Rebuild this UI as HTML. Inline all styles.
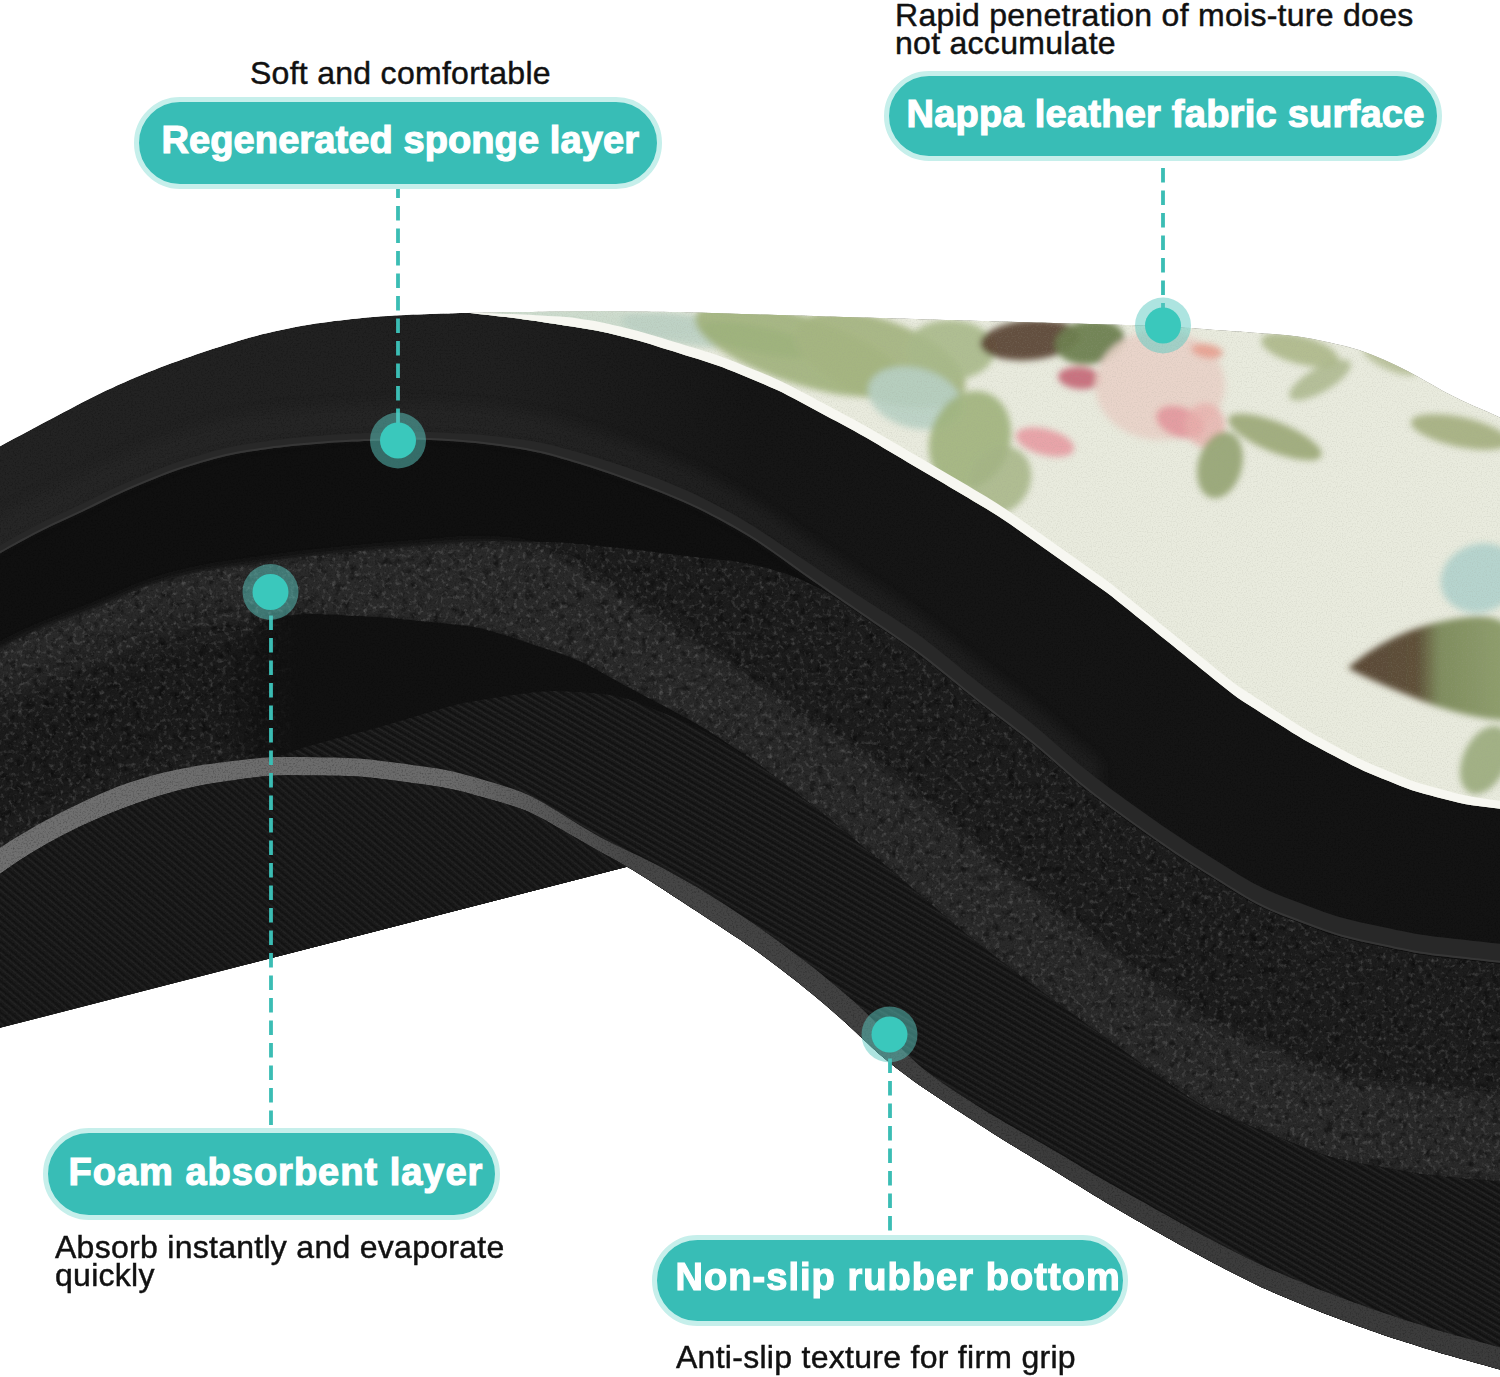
<!DOCTYPE html>
<html><head><meta charset="utf-8">
<style>
html,body{margin:0;padding:0;background:#fff;}
body{width:1500px;height:1377px;overflow:hidden;position:relative;font-family:"Liberation Sans",sans-serif;}
svg{position:absolute;left:0;top:0;}
.t{position:absolute;color:#111;font-size:32px;line-height:28px;white-space:nowrap;letter-spacing:0.28px;-webkit-text-stroke:0.45px #111;}
.pt{position:absolute;color:#fff;font-size:38px;line-height:38px;font-weight:bold;white-space:nowrap;-webkit-text-stroke:1.2px #fff;}
.pill{position:absolute;background:#38bdb6;border:5px solid #c6efeb;border-radius:60px;box-sizing:border-box;}
</style></head><body>
<svg width="1500" height="1377" viewBox="0 0 1500 1377">
<defs>
 <linearGradient id="gTop" gradientUnits="userSpaceOnUse" x1="0" y1="0" x2="1500" y2="0">
  <stop offset="0" stop-color="#232323"/><stop offset="0.33" stop-color="#202020"/><stop offset="0.5" stop-color="#161616"/><stop offset="1" stop-color="#131313"/>
 </linearGradient>
 <linearGradient id="gStripe" gradientUnits="userSpaceOnUse" x1="0" y1="0" x2="1500" y2="0">
  <stop offset="0" stop-color="#707070"/><stop offset="0.3" stop-color="#6a6a6a"/><stop offset="0.42" stop-color="#474747"/><stop offset="0.7" stop-color="#3c3c3c"/><stop offset="1" stop-color="#3c3c3c"/>
 </linearGradient>
 <linearGradient id="gLeaf" gradientUnits="userSpaceOnUse" x1="1350" y1="0" x2="1500" y2="0">
  <stop offset="0" stop-color="#5a4836"/><stop offset="0.45" stop-color="#5e5038"/><stop offset="0.6" stop-color="#7f8d5e"/><stop offset="1" stop-color="#8e9d6c"/>
 </linearGradient>
 <filter id="blur3" x="-20%" y="-20%" width="140%" height="140%"><feGaussianBlur stdDeviation="3"/></filter>
 <filter id="blur6" x="-20%" y="-20%" width="140%" height="140%"><feGaussianBlur stdDeviation="6"/></filter>
 <filter id="blurU12" filterUnits="userSpaceOnUse" x="-50" y="-50" width="1600" height="1477"><feGaussianBlur stdDeviation="14"/></filter>
 <filter id="blurU5" filterUnits="userSpaceOnUse" x="-50" y="-50" width="1600" height="1477"><feGaussianBlur stdDeviation="5"/></filter>
 <filter id="noiseFoam" x="0" y="0" width="100%" height="100%" filterUnits="userSpaceOnUse">
  <feTurbulence type="fractalNoise" baseFrequency="0.22" numOctaves="3" seed="3" result="n"/>
  <feColorMatrix in="n" type="matrix" values="0 0 0 0 1  0 0 0 0 1  0 0 0 0 1  0 0 0 2.2 -1.15"/>
 </filter>
 <filter id="noiseFoamDark" x="0" y="0" width="100%" height="100%" filterUnits="userSpaceOnUse">
  <feTurbulence type="fractalNoise" baseFrequency="0.12" numOctaves="3" seed="5" result="n"/>
  <feColorMatrix in="n" type="matrix" values="0 0 0 0 0  0 0 0 0 0  0 0 0 0 0  0 0 0 -2.6 1.25"/>
 </filter>
 <filter id="noiseDark" x="0" y="0" width="100%" height="100%" filterUnits="userSpaceOnUse">
  <feTurbulence type="fractalNoise" baseFrequency="0.6" numOctaves="2" seed="7" result="n"/>
  <feColorMatrix in="n" type="matrix" values="0 0 0 0 0  0 0 0 0 0  0 0 0 0 0  0 0 0 2.5 -1.2"/>
 </filter>
 <filter id="noiseCream" x="0" y="0" width="100%" height="100%" filterUnits="userSpaceOnUse">
  <feTurbulence type="fractalNoise" baseFrequency="0.8" numOctaves="1" seed="11" result="n"/>
  <feColorMatrix in="n" type="matrix" values="0 0 0 0 0.35  0 0 0 0 0.35  0 0 0 0 0.3  0 0 0 1.6 -0.75"/>
 </filter>
 <pattern id="knitPat" patternUnits="userSpaceOnUse" width="6" height="6" patternTransform="rotate(30)">
  <rect x="0" y="0" width="6" height="2" fill="#000" fill-opacity="0.3"/>
  <rect x="0" y="3" width="6" height="1" fill="#fff" fill-opacity="0.05"/>
 </pattern>
 <pattern id="knitPat2" patternUnits="userSpaceOnUse" width="6" height="6" patternTransform="rotate(40)">
  <rect x="0" y="0" width="6" height="2" fill="#000" fill-opacity="0.25"/>
  <rect x="0" y="3" width="6" height="1" fill="#fff" fill-opacity="0.04"/>
 </pattern>
 <linearGradient id="gFade" gradientUnits="userSpaceOnUse" x1="215" y1="0" x2="300" y2="0">
  <stop offset="0" stop-color="#fff" stop-opacity="0"/><stop offset="1" stop-color="#fff" stop-opacity="1"/>
 </linearGradient>
 <mask id="maskFade" maskUnits="userSpaceOnUse" x="0" y="0" width="1500" height="1377"><rect x="0" y="0" width="1500" height="1377" fill="url(#gFade)"/></mask>
 <clipPath id="clipFoam"><path d="M-20.0 660.0 L-14.0 656.5 L-8.0 653.0 L-2.0 649.7 L4.0 646.4 L10.0 643.2 L16.0 640.1 L22.0 637.1 L28.0 634.2 L34.0 631.4 L40.0 628.8 L46.0 626.3 L52.0 623.9 L58.0 621.6 L64.0 619.4 L70.0 617.2 L76.0 615.0 L82.0 612.8 L88.0 610.5 L94.0 608.1 L100.0 605.7 L106.0 603.1 L112.0 600.5 L118.0 597.9 L124.0 595.3 L130.0 592.7 L136.0 590.2 L142.0 587.8 L148.0 585.7 L154.0 583.7 L160.0 581.8 L166.0 580.1 L172.0 578.4 L178.0 576.9 L184.0 575.3 L190.0 573.9 L196.0 572.5 L202.0 571.3 L208.0 570.2 L214.0 569.1 L220.0 568.2 L226.0 567.3 L232.0 566.4 L238.0 565.6 L244.0 564.7 L250.0 563.9 L256.0 563.0 L262.0 562.2 L268.0 561.3 L274.0 560.5 L280.0 559.7 L286.0 558.9 L292.0 558.2 L298.0 557.4 L304.0 556.7 L310.0 556.1 L316.0 555.4 L322.0 554.8 L328.0 554.2 L334.0 553.6 L340.0 553.0 L346.0 552.4 L352.0 551.8 L358.0 551.2 L364.0 550.6 L370.0 550.0 L376.0 549.5 L382.0 548.9 L388.0 548.4 L394.0 547.9 L400.0 547.4 L406.0 546.9 L412.0 546.4 L418.0 546.0 L424.0 545.5 L430.0 545.0 L436.0 544.5 L442.0 544.0 L448.0 543.6 L454.0 543.1 L460.0 542.6 L466.0 542.2 L472.0 541.9 L478.0 541.6 L484.0 541.4 L490.0 541.3 L496.0 541.3 L502.0 541.3 L508.0 541.4 L514.0 541.4 L520.0 541.5 L526.0 541.6 L532.0 541.7 L538.0 541.8 L544.0 541.9 L550.0 542.0 L556.0 542.3 L562.0 542.6 L568.0 543.0 L574.0 543.5 L580.0 544.0 L586.0 544.6 L592.0 545.2 L598.0 545.8 L604.0 546.4 L610.0 547.0 L616.0 547.6 L622.0 548.2 L628.0 548.9 L634.0 549.5 L640.0 550.2 L646.0 550.9 L652.0 551.7 L658.0 552.4 L664.0 553.2 L670.0 554.0 L676.0 554.8 L682.0 555.6 L688.0 556.3 L694.0 557.0 L700.0 557.7 L706.0 558.3 L712.0 558.8 L718.0 559.4 L724.0 559.9 L730.0 560.6 L736.0 561.4 L742.0 562.4 L748.0 563.5 L754.0 564.9 L760.0 566.3 L766.0 567.8 L772.0 569.5 L778.0 571.2 L784.0 573.1 L790.0 575.2 L796.0 577.5 L802.0 580.0 L808.0 582.8 L814.0 585.7 L820.0 588.8 L826.0 592.1 L832.0 595.6 L838.0 599.4 L844.0 603.3 L850.0 607.4 L856.0 611.5 L862.0 615.6 L868.0 619.7 L874.0 623.8 L880.0 627.9 L886.0 631.9 L892.0 636.0 L898.0 640.1 L904.0 644.3 L910.0 648.5 L916.0 652.8 L922.0 657.3 L928.0 661.9 L934.0 666.6 L940.0 671.4 L946.0 676.3 L952.0 681.1 L958.0 686.0 L964.0 690.9 L970.0 695.7 L976.0 700.5 L982.0 705.2 L988.0 709.8 L994.0 714.4 L1000.0 719.0 L1006.0 723.5 L1012.0 728.1 L1018.0 732.7 L1024.0 737.3 L1030.0 742.1 L1036.0 747.1 L1042.0 752.1 L1048.0 757.3 L1054.0 762.5 L1060.0 767.8 L1066.0 773.1 L1072.0 778.3 L1078.0 783.4 L1084.0 788.3 L1090.0 793.1 L1096.0 797.8 L1102.0 802.3 L1108.0 806.8 L1114.0 811.2 L1120.0 815.5 L1126.0 819.9 L1132.0 824.2 L1138.0 828.5 L1144.0 832.8 L1150.0 837.0 L1156.0 841.2 L1162.0 845.4 L1168.0 849.5 L1174.0 853.6 L1180.0 857.6 L1186.0 861.5 L1192.0 865.4 L1198.0 869.2 L1204.0 873.0 L1210.0 876.7 L1216.0 880.5 L1222.0 884.2 L1228.0 888.0 L1234.0 891.7 L1240.0 895.4 L1246.0 899.0 L1252.0 902.4 L1258.0 905.6 L1264.0 908.5 L1270.0 911.3 L1276.0 913.8 L1282.0 916.2 L1288.0 918.5 L1294.0 920.7 L1300.0 923.0 L1306.0 925.2 L1312.0 927.5 L1318.0 929.7 L1324.0 931.9 L1330.0 933.9 L1336.0 935.9 L1342.0 937.7 L1348.0 939.3 L1354.0 940.8 L1360.0 942.2 L1366.0 943.5 L1372.0 944.8 L1378.0 946.1 L1384.0 947.3 L1390.0 948.6 L1396.0 949.9 L1402.0 951.1 L1408.0 952.3 L1414.0 953.4 L1420.0 954.4 L1426.0 955.3 L1432.0 956.2 L1438.0 956.9 L1444.0 957.6 L1450.0 958.3 L1456.0 959.0 L1462.0 959.6 L1468.0 960.3 L1474.0 960.9 L1480.0 961.6 L1486.0 962.3 L1492.0 962.9 L1498.0 963.6 L1504.0 964.2 L1510.0 964.9 L1516.0 965.6 L1520.0 966.0 L1520 1400 L-20 1400 Z"/></clipPath>
 <clipPath id="clipKnit"><path d="M250.0 768.0 L256.0 765.6 L262.0 763.2 L268.0 760.8 L274.0 758.4 L280.0 756.1 L286.0 753.8 L292.0 751.5 L298.0 749.4 L304.0 747.5 L310.0 745.6 L316.0 743.9 L322.0 742.3 L328.0 740.7 L334.0 739.1 L340.0 737.5 L346.0 735.9 L352.0 734.3 L358.0 732.8 L364.0 731.2 L370.0 729.6 L376.0 727.9 L382.0 726.2 L388.0 724.5 L394.0 722.8 L400.0 721.0 L406.0 719.2 L412.0 717.4 L418.0 715.6 L424.0 713.8 L430.0 712.0 L436.0 710.2 L442.0 708.5 L448.0 706.8 L454.0 705.3 L460.0 703.8 L466.0 702.6 L472.0 701.4 L478.0 700.4 L484.0 699.5 L490.0 698.5 L496.0 697.6 L502.0 696.7 L508.0 695.8 L514.0 694.9 L520.0 694.1 L526.0 693.2 L532.0 692.5 L538.0 691.8 L544.0 691.4 L550.0 691.1 L556.0 691.1 L562.0 691.2 L568.0 691.5 L574.0 691.9 L580.0 692.3 L586.0 692.7 L592.0 693.1 L598.0 693.6 L604.0 694.2 L610.0 695.0 L616.0 696.0 L622.0 697.4 L628.0 699.1 L634.0 701.2 L640.0 703.4 L646.0 705.8 L652.0 708.2 L658.0 710.7 L664.0 713.2 L670.0 715.6 L676.0 718.1 L682.0 720.7 L688.0 723.4 L694.0 726.2 L700.0 729.1 L706.0 732.3 L712.0 735.7 L718.0 739.2 L724.0 742.9 L730.0 746.5 L736.0 750.2 L742.0 754.0 L748.0 757.8 L754.0 761.8 L760.0 765.9 L766.0 770.1 L772.0 774.5 L778.0 779.0 L784.0 783.6 L790.0 788.2 L796.0 792.8 L802.0 797.4 L808.0 802.1 L814.0 806.7 L820.0 811.4 L826.0 816.2 L832.0 821.0 L838.0 825.9 L844.0 830.8 L850.0 835.8 L856.0 840.9 L862.0 845.9 L868.0 850.9 L874.0 856.0 L880.0 861.0 L886.0 866.1 L892.0 871.2 L898.0 876.2 L904.0 881.3 L910.0 886.5 L916.0 891.6 L922.0 896.7 L928.0 901.9 L934.0 907.0 L940.0 912.1 L946.0 917.3 L952.0 922.4 L958.0 927.4 L964.0 932.4 L970.0 937.2 L976.0 942.0 L982.0 946.7 L988.0 951.3 L994.0 955.9 L1000.0 960.5 L1006.0 965.0 L1012.0 969.6 L1018.0 974.1 L1024.0 978.6 L1030.0 983.1 L1036.0 987.6 L1042.0 992.0 L1048.0 996.4 L1054.0 1000.8 L1060.0 1005.1 L1066.0 1009.5 L1072.0 1013.8 L1078.0 1018.1 L1084.0 1022.5 L1090.0 1026.8 L1096.0 1031.1 L1102.0 1035.4 L1108.0 1039.8 L1114.0 1044.1 L1120.0 1048.4 L1126.0 1052.7 L1132.0 1057.0 L1138.0 1061.4 L1144.0 1065.7 L1150.0 1070.0 L1156.0 1074.3 L1162.0 1078.6 L1168.0 1082.9 L1174.0 1087.2 L1180.0 1091.4 L1186.0 1095.5 L1192.0 1099.5 L1198.0 1103.1 L1204.0 1106.4 L1210.0 1109.4 L1216.0 1112.1 L1222.0 1114.7 L1228.0 1117.2 L1234.0 1119.6 L1240.0 1122.0 L1246.0 1124.4 L1252.0 1126.8 L1258.0 1129.2 L1264.0 1131.6 L1270.0 1134.0 L1276.0 1136.4 L1282.0 1138.8 L1288.0 1141.2 L1294.0 1143.6 L1300.0 1146.0 L1306.0 1148.3 L1312.0 1150.7 L1318.0 1152.9 L1324.0 1154.9 L1330.0 1156.8 L1336.0 1158.4 L1342.0 1159.8 L1348.0 1161.1 L1354.0 1162.3 L1360.0 1163.4 L1366.0 1164.5 L1372.0 1165.6 L1378.0 1166.6 L1384.0 1167.7 L1390.0 1168.8 L1396.0 1169.9 L1402.0 1170.9 L1408.0 1172.0 L1414.0 1173.0 L1420.0 1174.0 L1426.0 1174.9 L1432.0 1175.7 L1438.0 1176.4 L1444.0 1177.0 L1450.0 1177.5 L1456.0 1178.0 L1462.0 1178.5 L1468.0 1179.0 L1474.0 1179.4 L1480.0 1179.9 L1486.0 1180.4 L1492.0 1180.8 L1498.0 1181.3 L1504.0 1181.8 L1510.0 1182.2 L1516.0 1182.7 L1520.0 1183.0 L1520 1400 L250 1400 Z"/></clipPath>
 <clipPath id="clipUnder"><path d="M-20.0 889.1 L-14.0 884.4 L-8.0 879.8 L-2.0 875.3 L4.0 871.0 L10.0 866.8 L16.0 862.8 L22.0 858.8 L28.0 855.0 L34.0 851.3 L40.0 847.7 L46.0 844.2 L52.0 840.9 L58.0 837.7 L64.0 834.5 L70.0 831.5 L76.0 828.5 L82.0 825.6 L88.0 822.9 L94.0 820.2 L100.0 817.6 L106.0 815.1 L112.0 812.6 L118.0 810.2 L124.0 807.9 L130.0 805.7 L136.0 803.5 L142.0 801.4 L148.0 799.4 L154.0 797.4 L160.0 795.6 L166.0 793.8 L172.0 792.2 L178.0 790.6 L184.0 789.1 L190.0 787.7 L196.0 786.4 L202.0 785.2 L208.0 784.1 L214.0 783.1 L220.0 782.2 L226.0 781.3 L232.0 780.4 L238.0 779.6 L244.0 778.7 L250.0 777.9 L256.0 777.2 L262.0 776.5 L268.0 776.0 L274.0 775.6 L280.0 775.4 L286.0 775.3 L292.0 775.3 L298.0 775.3 L304.0 775.4 L310.0 775.4 L316.0 775.5 L322.0 775.6 L328.0 775.7 L334.0 775.7 L340.0 775.8 L346.0 776.0 L352.0 776.2 L358.0 776.5 L364.0 777.0 L370.0 777.6 L376.0 778.2 L382.0 779.0 L388.0 779.7 L394.0 780.5 L400.0 781.3 L406.0 782.1 L412.0 782.9 L418.0 783.7 L424.0 784.6 L430.0 785.4 L436.0 786.3 L442.0 787.3 L448.0 788.4 L454.0 789.7 L460.0 791.1 L466.0 792.6 L472.0 794.3 L478.0 795.9 L484.0 797.6 L490.0 799.3 L496.0 801.0 L502.0 802.7 L508.0 804.5 L514.0 806.4 L520.0 808.5 L526.0 810.8 L532.0 813.5 L538.0 816.4 L544.0 819.6 L550.0 822.9 L556.0 826.4 L562.0 829.8 L568.0 833.3 L574.0 836.8 L580.0 840.3 L586.0 843.8 L592.0 847.2 L598.0 850.5 L604.0 853.9 L610.0 857.2 L616.0 860.4 L622.0 863.8 L627.0 866.7 L-20 1033 Z"/></clipPath>
 <clipPath id="clipSil"><path d="M-20.0 458.0 L-14.0 454.5 L-8.0 451.0 L-2.0 447.5 L4.0 444.1 L10.0 440.8 L16.0 437.6 L22.0 434.4 L28.0 431.2 L34.0 428.0 L40.0 424.8 L46.0 421.6 L52.0 418.4 L58.0 415.3 L64.0 412.1 L70.0 408.9 L76.0 405.7 L82.0 402.6 L88.0 399.5 L94.0 396.5 L100.0 393.5 L106.0 390.6 L112.0 387.9 L118.0 385.1 L124.0 382.5 L130.0 379.8 L136.0 377.3 L142.0 374.7 L148.0 372.3 L154.0 369.9 L160.0 367.6 L166.0 365.3 L172.0 363.1 L178.0 361.0 L184.0 358.8 L190.0 356.7 L196.0 354.6 L202.0 352.6 L208.0 350.6 L214.0 348.6 L220.0 346.7 L226.0 344.8 L232.0 342.9 L238.0 341.0 L244.0 339.2 L250.0 337.5 L256.0 335.9 L262.0 334.3 L268.0 332.9 L274.0 331.6 L280.0 330.3 L286.0 329.0 L292.0 327.8 L298.0 326.6 L304.0 325.5 L310.0 324.5 L316.0 323.5 L322.0 322.7 L328.0 321.9 L334.0 321.1 L340.0 320.4 L346.0 319.7 L352.0 319.1 L358.0 318.4 L364.0 317.8 L370.0 317.3 L376.0 316.8 L382.0 316.3 L388.0 315.9 L394.0 315.5 L400.0 315.2 L406.0 314.9 L412.0 314.6 L418.0 314.4 L424.0 314.2 L430.0 314.0 L436.0 313.8 L442.0 313.6 L448.0 313.4 L454.0 313.2 L460.0 313.1 L466.0 312.9 L472.0 312.8 L478.0 312.7 L484.0 312.6 L490.0 312.5 L496.0 312.4 L502.0 312.3 L508.0 312.2 L514.0 312.1 L520.0 312.0 L526.0 311.9 L532.0 311.9 L538.0 311.8 L544.0 311.7 L550.0 311.6 L556.0 311.6 L562.0 311.5 L568.0 311.4 L574.0 311.3 L580.0 311.3 L586.0 311.2 L592.0 311.2 L598.0 311.1 L604.0 311.1 L610.0 311.2 L616.0 311.2 L622.0 311.3 L628.0 311.4 L634.0 311.4 L640.0 311.5 L646.0 311.6 L652.0 311.7 L658.0 311.7 L664.0 311.8 L670.0 311.9 L676.0 312.0 L682.0 312.1 L688.0 312.3 L694.0 312.4 L700.0 312.6 L706.0 312.8 L712.0 313.0 L718.0 313.1 L724.0 313.3 L730.0 313.5 L736.0 313.7 L742.0 313.9 L748.0 314.0 L754.0 314.2 L760.0 314.4 L766.0 314.6 L772.0 314.8 L778.0 314.9 L784.0 315.1 L790.0 315.3 L796.0 315.5 L802.0 315.6 L808.0 315.8 L814.0 316.0 L820.0 316.2 L826.0 316.4 L832.0 316.5 L838.0 316.7 L844.0 316.9 L850.0 317.1 L856.0 317.2 L862.0 317.4 L868.0 317.6 L874.0 317.8 L880.0 317.9 L886.0 318.1 L892.0 318.3 L898.0 318.5 L904.0 318.6 L910.0 318.8 L916.0 319.0 L922.0 319.2 L928.0 319.4 L934.0 319.5 L940.0 319.7 L946.0 319.9 L952.0 320.1 L958.0 320.2 L964.0 320.4 L970.0 320.6 L976.0 320.7 L982.0 320.9 L988.0 321.1 L994.0 321.2 L1000.0 321.4 L1006.0 321.6 L1012.0 321.7 L1018.0 321.9 L1024.0 322.1 L1030.0 322.3 L1036.0 322.4 L1042.0 322.6 L1048.0 322.8 L1054.0 322.9 L1060.0 323.1 L1066.0 323.3 L1072.0 323.4 L1078.0 323.6 L1084.0 323.8 L1090.0 323.9 L1096.0 324.1 L1102.0 324.3 L1108.0 324.5 L1114.0 324.6 L1120.0 324.8 L1126.0 325.0 L1132.0 325.1 L1138.0 325.3 L1144.0 325.5 L1150.0 325.7 L1156.0 325.9 L1162.0 326.2 L1168.0 326.5 L1174.0 326.9 L1180.0 327.3 L1186.0 327.7 L1192.0 328.1 L1198.0 328.6 L1204.0 329.0 L1210.0 329.4 L1216.0 329.9 L1222.0 330.3 L1228.0 330.7 L1234.0 331.2 L1240.0 331.6 L1246.0 332.1 L1252.0 332.5 L1258.0 332.9 L1264.0 333.4 L1270.0 333.8 L1276.0 334.3 L1282.0 334.8 L1288.0 335.3 L1294.0 336.0 L1300.0 336.8 L1306.0 337.7 L1312.0 338.8 L1318.0 340.0 L1324.0 341.2 L1330.0 342.5 L1336.0 343.9 L1342.0 345.3 L1348.0 346.7 L1354.0 348.4 L1360.0 350.3 L1366.0 352.4 L1372.0 354.7 L1378.0 357.2 L1384.0 359.8 L1390.0 362.5 L1396.0 365.3 L1402.0 368.2 L1408.0 371.3 L1414.0 374.5 L1420.0 377.8 L1426.0 381.2 L1432.0 384.6 L1438.0 388.0 L1444.0 391.4 L1450.0 394.6 L1456.0 397.6 L1462.0 400.5 L1468.0 403.2 L1474.0 405.9 L1480.0 408.5 L1486.0 411.1 L1492.0 413.8 L1498.0 416.5 L1504.0 419.3 L1510.0 422.1 L1516.0 425.1 L1520.0 427.0 L1520.0 1375.0 L1514.0 1373.3 L1508.0 1371.7 L1502.0 1370.1 L1496.0 1368.4 L1490.0 1366.7 L1484.0 1365.1 L1478.0 1363.4 L1472.0 1361.8 L1466.0 1360.1 L1460.0 1358.5 L1454.0 1356.8 L1448.0 1355.1 L1442.0 1353.4 L1436.0 1351.6 L1430.0 1349.8 L1424.0 1347.9 L1418.0 1346.0 L1412.0 1344.1 L1406.0 1342.2 L1400.0 1340.3 L1394.0 1338.4 L1388.0 1336.4 L1382.0 1334.4 L1376.0 1332.3 L1370.0 1330.2 L1364.0 1328.1 L1358.0 1325.9 L1352.0 1323.7 L1346.0 1321.5 L1340.0 1319.3 L1334.0 1317.1 L1328.0 1314.8 L1322.0 1312.5 L1316.0 1310.1 L1310.0 1307.7 L1304.0 1305.3 L1298.0 1302.8 L1292.0 1300.3 L1286.0 1297.8 L1280.0 1295.3 L1274.0 1292.7 L1268.0 1290.1 L1262.0 1287.4 L1256.0 1284.6 L1250.0 1281.6 L1244.0 1278.6 L1238.0 1275.6 L1232.0 1272.5 L1226.0 1269.4 L1220.0 1266.3 L1214.0 1263.2 L1208.0 1260.0 L1202.0 1256.8 L1196.0 1253.6 L1190.0 1250.3 L1184.0 1247.0 L1178.0 1243.7 L1172.0 1240.3 L1166.0 1236.9 L1160.0 1233.6 L1154.0 1230.2 L1148.0 1226.7 L1142.0 1223.3 L1136.0 1219.9 L1130.0 1216.4 L1124.0 1212.9 L1118.0 1209.4 L1112.0 1205.9 L1106.0 1202.4 L1100.0 1198.8 L1094.0 1195.2 L1088.0 1191.5 L1082.0 1187.8 L1076.0 1184.1 L1070.0 1180.4 L1064.0 1176.7 L1058.0 1173.0 L1052.0 1169.3 L1046.0 1165.7 L1040.0 1162.0 L1034.0 1158.4 L1028.0 1154.8 L1022.0 1151.2 L1016.0 1147.6 L1010.0 1143.9 L1004.0 1140.2 L998.0 1136.5 L992.0 1132.7 L986.0 1128.8 L980.0 1125.0 L974.0 1121.1 L968.0 1117.2 L962.0 1113.3 L956.0 1109.4 L950.0 1105.5 L944.0 1101.6 L938.0 1097.6 L932.0 1093.6 L926.0 1089.6 L920.0 1085.4 L914.0 1081.2 L908.0 1076.8 L902.0 1072.3 L896.0 1067.8 L890.0 1063.0 L884.0 1058.1 L878.0 1052.9 L872.0 1047.4 L866.0 1041.8 L860.0 1036.2 L854.0 1030.5 L848.0 1024.9 L842.0 1019.5 L836.0 1014.2 L830.0 1009.0 L824.0 1003.8 L818.0 998.7 L812.0 993.8 L806.0 988.9 L800.0 984.1 L794.0 979.3 L788.0 974.7 L782.0 970.0 L776.0 965.4 L770.0 960.9 L764.0 956.4 L758.0 952.1 L752.0 947.8 L746.0 943.7 L740.0 939.6 L734.0 935.7 L728.0 931.7 L722.0 927.8 L716.0 923.8 L710.0 919.9 L704.0 916.0 L698.0 912.1 L692.0 908.2 L686.0 904.2 L680.0 900.3 L674.0 896.4 L668.0 892.5 L662.0 888.6 L656.0 884.7 L650.0 880.8 L644.0 877.0 L638.0 873.3 L632.0 869.6 L627.0 866.7 L-20 1033 Z"/></clipPath>
 <clipPath id="clipFloral"><path d="M472.0 312.8 L478.0 312.7 L484.0 312.6 L490.0 312.5 L496.0 312.4 L502.0 312.3 L508.0 312.2 L514.0 312.1 L520.0 312.0 L526.0 311.9 L532.0 311.9 L538.0 311.8 L544.0 311.7 L550.0 311.6 L556.0 311.6 L562.0 311.5 L568.0 311.4 L574.0 311.3 L580.0 311.3 L586.0 311.2 L592.0 311.2 L598.0 311.1 L604.0 311.1 L610.0 311.2 L616.0 311.2 L622.0 311.3 L628.0 311.4 L634.0 311.4 L640.0 311.5 L646.0 311.6 L652.0 311.7 L658.0 311.7 L664.0 311.8 L670.0 311.9 L676.0 312.0 L682.0 312.1 L688.0 312.3 L694.0 312.4 L700.0 312.6 L706.0 312.8 L712.0 313.0 L718.0 313.1 L724.0 313.3 L730.0 313.5 L736.0 313.7 L742.0 313.9 L748.0 314.0 L754.0 314.2 L760.0 314.4 L766.0 314.6 L772.0 314.8 L778.0 314.9 L784.0 315.1 L790.0 315.3 L796.0 315.5 L802.0 315.6 L808.0 315.8 L814.0 316.0 L820.0 316.2 L826.0 316.4 L832.0 316.5 L838.0 316.7 L844.0 316.9 L850.0 317.1 L856.0 317.2 L862.0 317.4 L868.0 317.6 L874.0 317.8 L880.0 317.9 L886.0 318.1 L892.0 318.3 L898.0 318.5 L904.0 318.6 L910.0 318.8 L916.0 319.0 L922.0 319.2 L928.0 319.4 L934.0 319.5 L940.0 319.7 L946.0 319.9 L952.0 320.1 L958.0 320.2 L964.0 320.4 L970.0 320.6 L976.0 320.7 L982.0 320.9 L988.0 321.1 L994.0 321.2 L1000.0 321.4 L1006.0 321.6 L1012.0 321.7 L1018.0 321.9 L1024.0 322.1 L1030.0 322.3 L1036.0 322.4 L1042.0 322.6 L1048.0 322.8 L1054.0 322.9 L1060.0 323.1 L1066.0 323.3 L1072.0 323.4 L1078.0 323.6 L1084.0 323.8 L1090.0 323.9 L1096.0 324.1 L1102.0 324.3 L1108.0 324.5 L1114.0 324.6 L1120.0 324.8 L1126.0 325.0 L1132.0 325.1 L1138.0 325.3 L1144.0 325.5 L1150.0 325.7 L1156.0 325.9 L1162.0 326.2 L1168.0 326.5 L1174.0 326.9 L1180.0 327.3 L1186.0 327.7 L1192.0 328.1 L1198.0 328.6 L1204.0 329.0 L1210.0 329.4 L1216.0 329.9 L1222.0 330.3 L1228.0 330.7 L1234.0 331.2 L1240.0 331.6 L1246.0 332.1 L1252.0 332.5 L1258.0 332.9 L1264.0 333.4 L1270.0 333.8 L1276.0 334.3 L1282.0 334.8 L1288.0 335.3 L1294.0 336.0 L1300.0 336.8 L1306.0 337.7 L1312.0 338.8 L1318.0 340.0 L1324.0 341.2 L1330.0 342.5 L1336.0 343.9 L1342.0 345.3 L1348.0 346.7 L1354.0 348.4 L1360.0 350.3 L1366.0 352.4 L1372.0 354.7 L1378.0 357.2 L1384.0 359.8 L1390.0 362.5 L1396.0 365.3 L1402.0 368.2 L1408.0 371.3 L1414.0 374.5 L1420.0 377.8 L1426.0 381.2 L1432.0 384.6 L1438.0 388.0 L1444.0 391.4 L1450.0 394.6 L1456.0 397.6 L1462.0 400.5 L1468.0 403.2 L1474.0 405.9 L1480.0 408.5 L1486.0 411.1 L1492.0 413.8 L1498.0 416.5 L1504.0 419.3 L1510.0 422.1 L1516.0 425.1 L1520.0 427.0 L1520.0 811.0 L1514.0 810.3 L1508.0 809.6 L1502.0 808.9 L1496.0 808.2 L1490.0 807.5 L1484.0 806.8 L1478.0 806.1 L1472.0 805.2 L1466.0 804.2 L1460.0 802.9 L1454.0 801.4 L1448.0 799.9 L1442.0 798.4 L1436.0 796.9 L1430.0 795.3 L1424.0 793.8 L1418.0 792.1 L1412.0 790.2 L1406.0 788.0 L1400.0 785.7 L1394.0 783.3 L1388.0 780.8 L1382.0 778.4 L1376.0 775.9 L1370.0 773.4 L1364.0 770.9 L1358.0 768.1 L1352.0 765.2 L1346.0 762.1 L1340.0 759.0 L1334.0 755.8 L1328.0 752.7 L1322.0 749.5 L1316.0 746.3 L1310.0 743.1 L1304.0 739.7 L1298.0 736.1 L1292.0 732.4 L1286.0 728.6 L1280.0 724.8 L1274.0 721.0 L1268.0 717.2 L1262.0 713.4 L1256.0 709.6 L1250.0 705.8 L1244.0 701.9 L1238.0 697.9 L1232.0 693.5 L1226.0 688.8 L1220.0 684.0 L1214.0 679.2 L1208.0 674.3 L1202.0 669.4 L1196.0 664.6 L1190.0 659.7 L1184.0 654.8 L1178.0 650.0 L1172.0 645.1 L1166.0 640.2 L1160.0 635.4 L1154.0 630.5 L1148.0 625.6 L1142.0 620.8 L1136.0 615.9 L1130.0 611.0 L1124.0 606.2 L1118.0 601.4 L1112.0 596.6 L1106.0 592.1 L1100.0 587.7 L1094.0 583.4 L1088.0 579.2 L1082.0 574.9 L1076.0 570.7 L1070.0 566.4 L1064.0 562.2 L1058.0 558.0 L1052.0 553.7 L1046.0 549.5 L1040.0 545.3 L1034.0 541.0 L1028.0 536.8 L1022.0 532.5 L1016.0 528.3 L1010.0 524.1 L1004.0 520.0 L998.0 516.0 L992.0 512.3 L986.0 508.6 L980.0 505.0 L974.0 501.4 L968.0 497.8 L962.0 494.3 L956.0 490.7 L950.0 487.2 L944.0 483.6 L938.0 480.1 L932.0 476.5 L926.0 473.0 L920.0 469.5 L914.0 465.9 L908.0 462.4 L902.0 458.8 L896.0 455.3 L890.0 451.7 L884.0 448.2 L878.0 444.6 L872.0 441.1 L866.0 437.6 L860.0 434.2 L854.0 430.8 L848.0 427.6 L842.0 424.3 L836.0 421.1 L830.0 417.9 L824.0 414.7 L818.0 411.4 L812.0 408.2 L806.0 405.0 L800.0 401.8 L794.0 398.5 L788.0 395.4 L782.0 392.3 L776.0 389.5 L770.0 386.9 L764.0 384.3 L758.0 381.8 L752.0 379.3 L746.0 376.8 L740.0 374.3 L734.0 371.8 L728.0 369.4 L722.0 367.1 L716.0 364.9 L710.0 362.9 L704.0 361.0 L698.0 359.1 L692.0 357.3 L686.0 355.4 L680.0 353.5 L674.0 351.6 L668.0 349.8 L662.0 347.9 L656.0 346.0 L650.0 344.1 L644.0 342.3 L638.0 340.6 L632.0 339.0 L626.0 337.5 L620.0 336.0 L614.0 334.5 L608.0 333.1 L602.0 331.7 L596.0 330.5 L590.0 329.5 L584.0 328.5 L578.0 327.5 L572.0 326.6 L566.0 325.7 L560.0 324.7 L554.0 323.8 L548.0 322.9 L542.0 322.0 L536.0 321.1 L530.0 320.2 L524.0 319.4 L518.0 318.6 L512.0 317.8 L506.0 317.1 L500.0 316.4 L494.0 315.7 L488.0 315.1 L482.0 314.4 L476.0 313.7 L470.0 313.0 Z"/></clipPath>
</defs>
<g clip-path="url(#clipSil)">
 <path d="M-20.0 458.0 L-14.0 454.5 L-8.0 451.0 L-2.0 447.5 L4.0 444.1 L10.0 440.8 L16.0 437.6 L22.0 434.4 L28.0 431.2 L34.0 428.0 L40.0 424.8 L46.0 421.6 L52.0 418.4 L58.0 415.3 L64.0 412.1 L70.0 408.9 L76.0 405.7 L82.0 402.6 L88.0 399.5 L94.0 396.5 L100.0 393.5 L106.0 390.6 L112.0 387.9 L118.0 385.1 L124.0 382.5 L130.0 379.8 L136.0 377.3 L142.0 374.7 L148.0 372.3 L154.0 369.9 L160.0 367.6 L166.0 365.3 L172.0 363.1 L178.0 361.0 L184.0 358.8 L190.0 356.7 L196.0 354.6 L202.0 352.6 L208.0 350.6 L214.0 348.6 L220.0 346.7 L226.0 344.8 L232.0 342.9 L238.0 341.0 L244.0 339.2 L250.0 337.5 L256.0 335.9 L262.0 334.3 L268.0 332.9 L274.0 331.6 L280.0 330.3 L286.0 329.0 L292.0 327.8 L298.0 326.6 L304.0 325.5 L310.0 324.5 L316.0 323.5 L322.0 322.7 L328.0 321.9 L334.0 321.1 L340.0 320.4 L346.0 319.7 L352.0 319.1 L358.0 318.4 L364.0 317.8 L370.0 317.3 L376.0 316.8 L382.0 316.3 L388.0 315.9 L394.0 315.5 L400.0 315.2 L406.0 314.9 L412.0 314.6 L418.0 314.4 L424.0 314.2 L430.0 314.0 L436.0 313.8 L442.0 313.6 L448.0 313.4 L454.0 313.2 L460.0 313.1 L466.0 312.9 L472.0 312.8 L478.0 312.7 L484.0 312.6 L490.0 312.5 L496.0 312.4 L502.0 312.3 L508.0 312.2 L514.0 312.1 L520.0 312.0 L526.0 311.9 L532.0 311.9 L538.0 311.8 L544.0 311.7 L550.0 311.6 L556.0 311.6 L562.0 311.5 L568.0 311.4 L574.0 311.3 L580.0 311.3 L586.0 311.2 L592.0 311.2 L598.0 311.1 L604.0 311.1 L610.0 311.2 L616.0 311.2 L622.0 311.3 L628.0 311.4 L634.0 311.4 L640.0 311.5 L646.0 311.6 L652.0 311.7 L658.0 311.7 L664.0 311.8 L670.0 311.9 L676.0 312.0 L682.0 312.1 L688.0 312.3 L694.0 312.4 L700.0 312.6 L706.0 312.8 L712.0 313.0 L718.0 313.1 L724.0 313.3 L730.0 313.5 L736.0 313.7 L742.0 313.9 L748.0 314.0 L754.0 314.2 L760.0 314.4 L766.0 314.6 L772.0 314.8 L778.0 314.9 L784.0 315.1 L790.0 315.3 L796.0 315.5 L802.0 315.6 L808.0 315.8 L814.0 316.0 L820.0 316.2 L826.0 316.4 L832.0 316.5 L838.0 316.7 L844.0 316.9 L850.0 317.1 L856.0 317.2 L862.0 317.4 L868.0 317.6 L874.0 317.8 L880.0 317.9 L886.0 318.1 L892.0 318.3 L898.0 318.5 L904.0 318.6 L910.0 318.8 L916.0 319.0 L922.0 319.2 L928.0 319.4 L934.0 319.5 L940.0 319.7 L946.0 319.9 L952.0 320.1 L958.0 320.2 L964.0 320.4 L970.0 320.6 L976.0 320.7 L982.0 320.9 L988.0 321.1 L994.0 321.2 L1000.0 321.4 L1006.0 321.6 L1012.0 321.7 L1018.0 321.9 L1024.0 322.1 L1030.0 322.3 L1036.0 322.4 L1042.0 322.6 L1048.0 322.8 L1054.0 322.9 L1060.0 323.1 L1066.0 323.3 L1072.0 323.4 L1078.0 323.6 L1084.0 323.8 L1090.0 323.9 L1096.0 324.1 L1102.0 324.3 L1108.0 324.5 L1114.0 324.6 L1120.0 324.8 L1126.0 325.0 L1132.0 325.1 L1138.0 325.3 L1144.0 325.5 L1150.0 325.7 L1156.0 325.9 L1162.0 326.2 L1168.0 326.5 L1174.0 326.9 L1180.0 327.3 L1186.0 327.7 L1192.0 328.1 L1198.0 328.6 L1204.0 329.0 L1210.0 329.4 L1216.0 329.9 L1222.0 330.3 L1228.0 330.7 L1234.0 331.2 L1240.0 331.6 L1246.0 332.1 L1252.0 332.5 L1258.0 332.9 L1264.0 333.4 L1270.0 333.8 L1276.0 334.3 L1282.0 334.8 L1288.0 335.3 L1294.0 336.0 L1300.0 336.8 L1306.0 337.7 L1312.0 338.8 L1318.0 340.0 L1324.0 341.2 L1330.0 342.5 L1336.0 343.9 L1342.0 345.3 L1348.0 346.7 L1354.0 348.4 L1360.0 350.3 L1366.0 352.4 L1372.0 354.7 L1378.0 357.2 L1384.0 359.8 L1390.0 362.5 L1396.0 365.3 L1402.0 368.2 L1408.0 371.3 L1414.0 374.5 L1420.0 377.8 L1426.0 381.2 L1432.0 384.6 L1438.0 388.0 L1444.0 391.4 L1450.0 394.6 L1456.0 397.6 L1462.0 400.5 L1468.0 403.2 L1474.0 405.9 L1480.0 408.5 L1486.0 411.1 L1492.0 413.8 L1498.0 416.5 L1504.0 419.3 L1510.0 422.1 L1516.0 425.1 L1520.0 427.0 L1520.0 1375.0 L1514.0 1373.3 L1508.0 1371.7 L1502.0 1370.1 L1496.0 1368.4 L1490.0 1366.7 L1484.0 1365.1 L1478.0 1363.4 L1472.0 1361.8 L1466.0 1360.1 L1460.0 1358.5 L1454.0 1356.8 L1448.0 1355.1 L1442.0 1353.4 L1436.0 1351.6 L1430.0 1349.8 L1424.0 1347.9 L1418.0 1346.0 L1412.0 1344.1 L1406.0 1342.2 L1400.0 1340.3 L1394.0 1338.4 L1388.0 1336.4 L1382.0 1334.4 L1376.0 1332.3 L1370.0 1330.2 L1364.0 1328.1 L1358.0 1325.9 L1352.0 1323.7 L1346.0 1321.5 L1340.0 1319.3 L1334.0 1317.1 L1328.0 1314.8 L1322.0 1312.5 L1316.0 1310.1 L1310.0 1307.7 L1304.0 1305.3 L1298.0 1302.8 L1292.0 1300.3 L1286.0 1297.8 L1280.0 1295.3 L1274.0 1292.7 L1268.0 1290.1 L1262.0 1287.4 L1256.0 1284.6 L1250.0 1281.6 L1244.0 1278.6 L1238.0 1275.6 L1232.0 1272.5 L1226.0 1269.4 L1220.0 1266.3 L1214.0 1263.2 L1208.0 1260.0 L1202.0 1256.8 L1196.0 1253.6 L1190.0 1250.3 L1184.0 1247.0 L1178.0 1243.7 L1172.0 1240.3 L1166.0 1236.9 L1160.0 1233.6 L1154.0 1230.2 L1148.0 1226.7 L1142.0 1223.3 L1136.0 1219.9 L1130.0 1216.4 L1124.0 1212.9 L1118.0 1209.4 L1112.0 1205.9 L1106.0 1202.4 L1100.0 1198.8 L1094.0 1195.2 L1088.0 1191.5 L1082.0 1187.8 L1076.0 1184.1 L1070.0 1180.4 L1064.0 1176.7 L1058.0 1173.0 L1052.0 1169.3 L1046.0 1165.7 L1040.0 1162.0 L1034.0 1158.4 L1028.0 1154.8 L1022.0 1151.2 L1016.0 1147.6 L1010.0 1143.9 L1004.0 1140.2 L998.0 1136.5 L992.0 1132.7 L986.0 1128.8 L980.0 1125.0 L974.0 1121.1 L968.0 1117.2 L962.0 1113.3 L956.0 1109.4 L950.0 1105.5 L944.0 1101.6 L938.0 1097.6 L932.0 1093.6 L926.0 1089.6 L920.0 1085.4 L914.0 1081.2 L908.0 1076.8 L902.0 1072.3 L896.0 1067.8 L890.0 1063.0 L884.0 1058.1 L878.0 1052.9 L872.0 1047.4 L866.0 1041.8 L860.0 1036.2 L854.0 1030.5 L848.0 1024.9 L842.0 1019.5 L836.0 1014.2 L830.0 1009.0 L824.0 1003.8 L818.0 998.7 L812.0 993.8 L806.0 988.9 L800.0 984.1 L794.0 979.3 L788.0 974.7 L782.0 970.0 L776.0 965.4 L770.0 960.9 L764.0 956.4 L758.0 952.1 L752.0 947.8 L746.0 943.7 L740.0 939.6 L734.0 935.7 L728.0 931.7 L722.0 927.8 L716.0 923.8 L710.0 919.9 L704.0 916.0 L698.0 912.1 L692.0 908.2 L686.0 904.2 L680.0 900.3 L674.0 896.4 L668.0 892.5 L662.0 888.6 L656.0 884.7 L650.0 880.8 L644.0 877.0 L638.0 873.3 L632.0 869.6 L627.0 866.7 L-20 1033 Z" fill="url(#gTop)"/>
 <path d="M-20.0 565.0 L-14.0 561.5 L-8.0 557.9 L-2.0 554.4 L4.0 551.0 L10.0 547.6 L16.0 544.3 L22.0 541.0 L28.0 537.8 L34.0 534.6 L40.0 531.6 L46.0 528.6 L52.0 525.7 L58.0 522.9 L64.0 520.2 L70.0 517.4 L76.0 514.6 L82.0 511.8 L88.0 508.9 L94.0 506.0 L100.0 503.0 L106.0 500.1 L112.0 497.2 L118.0 494.4 L124.0 491.7 L130.0 489.0 L136.0 486.4 L142.0 483.9 L148.0 481.4 L154.0 479.0 L160.0 476.6 L166.0 474.2 L172.0 472.0 L178.0 469.9 L184.0 467.9 L190.0 466.1 L196.0 464.2 L202.0 462.4 L208.0 460.7 L214.0 459.0 L220.0 457.5 L226.0 456.0 L232.0 454.7 L238.0 453.6 L244.0 452.5 L250.0 451.6 L256.0 450.7 L262.0 449.8 L268.0 448.9 L274.0 448.1 L280.0 447.4 L286.0 446.7 L292.0 446.1 L298.0 445.5 L304.0 445.0 L310.0 444.5 L316.0 444.0 L322.0 443.5 L328.0 443.1 L334.0 442.6 L340.0 442.3 L346.0 441.9 L352.0 441.6 L358.0 441.4 L364.0 441.1 L370.0 440.9 L376.0 440.7 L382.0 440.4 L388.0 440.2 L394.0 440.0 L400.0 439.8 L406.0 439.6 L412.0 439.6 L418.0 439.6 L424.0 439.7 L430.0 439.9 L436.0 440.2 L442.0 440.5 L448.0 440.9 L454.0 441.3 L460.0 441.7 L466.0 442.2 L472.0 442.7 L478.0 443.3 L484.0 443.9 L490.0 444.7 L496.0 445.5 L502.0 446.3 L508.0 447.2 L514.0 448.1 L520.0 449.1 L526.0 450.1 L532.0 451.2 L538.0 452.4 L544.0 453.8 L550.0 455.3 L556.0 456.9 L562.0 458.7 L568.0 460.4 L574.0 462.2 L580.0 464.0 L586.0 465.9 L592.0 467.8 L598.0 469.7 L604.0 471.7 L610.0 473.8 L616.0 475.9 L622.0 478.1 L628.0 480.3 L634.0 482.5 L640.0 484.7 L646.0 486.9 L652.0 489.2 L658.0 491.5 L664.0 493.9 L670.0 496.4 L676.0 498.9 L682.0 501.4 L688.0 504.1 L694.0 506.8 L700.0 509.7 L706.0 512.7 L712.0 515.8 L718.0 518.9 L724.0 522.2 L730.0 525.5 L736.0 528.8 L742.0 532.3 L748.0 535.9 L754.0 539.6 L760.0 543.5 L766.0 547.6 L772.0 551.8 L778.0 556.0 L784.0 560.3 L790.0 564.6 L796.0 568.9 L802.0 573.2 L808.0 577.4 L814.0 581.6 L820.0 585.8 L826.0 589.9 L832.0 594.1 L838.0 598.2 L844.0 602.3 L850.0 606.4 L856.0 610.5 L862.0 614.6 L868.0 618.7 L874.0 622.8 L880.0 626.9 L886.0 630.9 L892.0 635.0 L898.0 639.1 L904.0 643.3 L910.0 647.5 L916.0 651.8 L922.0 656.3 L928.0 660.9 L934.0 665.6 L940.0 670.4 L946.0 675.3 L952.0 680.1 L958.0 685.0 L964.0 689.9 L970.0 694.7 L976.0 699.5 L982.0 704.2 L988.0 708.8 L994.0 713.4 L1000.0 718.0 L1006.0 722.5 L1012.0 727.1 L1018.0 731.7 L1024.0 736.3 L1030.0 741.1 L1036.0 746.1 L1042.0 751.1 L1048.0 756.3 L1054.0 761.5 L1060.0 766.8 L1066.0 772.1 L1072.0 777.3 L1078.0 782.4 L1084.0 787.3 L1090.0 792.1 L1096.0 796.8 L1102.0 801.3 L1108.0 805.8 L1114.0 810.2 L1120.0 814.5 L1126.0 818.9 L1132.0 823.2 L1138.0 827.5 L1144.0 831.8 L1150.0 836.0 L1156.0 840.2 L1162.0 844.4 L1168.0 848.5 L1174.0 852.6 L1180.0 856.6 L1186.0 860.5 L1192.0 864.4 L1198.0 868.2 L1204.0 872.0 L1210.0 875.7 L1216.0 879.5 L1222.0 883.2 L1228.0 887.0 L1234.0 890.7 L1240.0 894.4 L1246.0 898.0 L1252.0 901.4 L1258.0 904.6 L1264.0 907.5 L1270.0 910.3 L1276.0 912.8 L1282.0 915.2 L1288.0 917.5 L1294.0 919.7 L1300.0 922.0 L1306.0 924.2 L1312.0 926.5 L1318.0 928.7 L1324.0 930.9 L1330.0 932.9 L1336.0 934.9 L1342.0 936.7 L1348.0 938.3 L1354.0 939.8 L1360.0 941.2 L1366.0 942.5 L1372.0 943.8 L1378.0 945.1 L1384.0 946.3 L1390.0 947.6 L1396.0 948.9 L1402.0 950.1 L1408.0 951.3 L1414.0 952.4 L1420.0 953.4 L1426.0 954.3 L1432.0 955.2 L1438.0 955.9 L1444.0 956.6 L1450.0 957.3 L1456.0 958.0 L1462.0 958.6 L1468.0 959.3 L1474.0 959.9 L1480.0 960.6 L1486.0 961.3 L1492.0 961.9 L1498.0 962.6 L1504.0 963.2 L1510.0 963.9 L1516.0 964.6 L1520.0 965.0 L1520 1400 L-20 1400 Z" fill="#101010"/>
 <path d="M-20.0 660.0 L-14.0 656.5 L-8.0 653.0 L-2.0 649.7 L4.0 646.4 L10.0 643.2 L16.0 640.1 L22.0 637.1 L28.0 634.2 L34.0 631.4 L40.0 628.8 L46.0 626.3 L52.0 623.9 L58.0 621.6 L64.0 619.4 L70.0 617.2 L76.0 615.0 L82.0 612.8 L88.0 610.5 L94.0 608.1 L100.0 605.7 L106.0 603.1 L112.0 600.5 L118.0 597.9 L124.0 595.3 L130.0 592.7 L136.0 590.2 L142.0 587.8 L148.0 585.7 L154.0 583.7 L160.0 581.8 L166.0 580.1 L172.0 578.4 L178.0 576.9 L184.0 575.3 L190.0 573.9 L196.0 572.5 L202.0 571.3 L208.0 570.2 L214.0 569.1 L220.0 568.2 L226.0 567.3 L232.0 566.4 L238.0 565.6 L244.0 564.7 L250.0 563.9 L256.0 563.0 L262.0 562.2 L268.0 561.3 L274.0 560.5 L280.0 559.7 L286.0 558.9 L292.0 558.2 L298.0 557.4 L304.0 556.7 L310.0 556.1 L316.0 555.4 L322.0 554.8 L328.0 554.2 L334.0 553.6 L340.0 553.0 L346.0 552.4 L352.0 551.8 L358.0 551.2 L364.0 550.6 L370.0 550.0 L376.0 549.5 L382.0 548.9 L388.0 548.4 L394.0 547.9 L400.0 547.4 L406.0 546.9 L412.0 546.4 L418.0 546.0 L424.0 545.5 L430.0 545.0 L436.0 544.5 L442.0 544.0 L448.0 543.6 L454.0 543.1 L460.0 542.6 L466.0 542.2 L472.0 541.9 L478.0 541.6 L484.0 541.4 L490.0 541.3 L496.0 541.3 L502.0 541.3 L508.0 541.4 L514.0 541.4 L520.0 541.5 L526.0 541.6 L532.0 541.7 L538.0 541.8 L544.0 541.9 L550.0 542.0 L556.0 542.3 L562.0 542.6 L568.0 543.0 L574.0 543.5 L580.0 544.0 L586.0 544.6 L592.0 545.2 L598.0 545.8 L604.0 546.4 L610.0 547.0 L616.0 547.6 L622.0 548.2 L628.0 548.9 L634.0 549.5 L640.0 550.2 L646.0 550.9 L652.0 551.7 L658.0 552.4 L664.0 553.2 L670.0 554.0 L676.0 554.8 L682.0 555.6 L688.0 556.3 L694.0 557.0 L700.0 557.7 L706.0 558.3 L712.0 558.8 L718.0 559.4 L724.0 559.9 L730.0 560.6 L736.0 561.4 L742.0 562.4 L748.0 563.5 L754.0 564.9 L760.0 566.3 L766.0 567.8 L772.0 569.5 L778.0 571.2 L784.0 573.1 L790.0 575.2 L796.0 577.5 L802.0 580.0 L808.0 582.8 L814.0 585.7 L820.0 588.8 L826.0 592.1 L832.0 595.6 L838.0 599.4 L844.0 603.3 L850.0 607.4 L856.0 611.5 L862.0 615.6 L868.0 619.7 L874.0 623.8 L880.0 627.9 L886.0 631.9 L892.0 636.0 L898.0 640.1 L904.0 644.3 L910.0 648.5 L916.0 652.8 L922.0 657.3 L928.0 661.9 L934.0 666.6 L940.0 671.4 L946.0 676.3 L952.0 681.1 L958.0 686.0 L964.0 690.9 L970.0 695.7 L976.0 700.5 L982.0 705.2 L988.0 709.8 L994.0 714.4 L1000.0 719.0 L1006.0 723.5 L1012.0 728.1 L1018.0 732.7 L1024.0 737.3 L1030.0 742.1 L1036.0 747.1 L1042.0 752.1 L1048.0 757.3 L1054.0 762.5 L1060.0 767.8 L1066.0 773.1 L1072.0 778.3 L1078.0 783.4 L1084.0 788.3 L1090.0 793.1 L1096.0 797.8 L1102.0 802.3 L1108.0 806.8 L1114.0 811.2 L1120.0 815.5 L1126.0 819.9 L1132.0 824.2 L1138.0 828.5 L1144.0 832.8 L1150.0 837.0 L1156.0 841.2 L1162.0 845.4 L1168.0 849.5 L1174.0 853.6 L1180.0 857.6 L1186.0 861.5 L1192.0 865.4 L1198.0 869.2 L1204.0 873.0 L1210.0 876.7 L1216.0 880.5 L1222.0 884.2 L1228.0 888.0 L1234.0 891.7 L1240.0 895.4 L1246.0 899.0 L1252.0 902.4 L1258.0 905.6 L1264.0 908.5 L1270.0 911.3 L1276.0 913.8 L1282.0 916.2 L1288.0 918.5 L1294.0 920.7 L1300.0 923.0 L1306.0 925.2 L1312.0 927.5 L1318.0 929.7 L1324.0 931.9 L1330.0 933.9 L1336.0 935.9 L1342.0 937.7 L1348.0 939.3 L1354.0 940.8 L1360.0 942.2 L1366.0 943.5 L1372.0 944.8 L1378.0 946.1 L1384.0 947.3 L1390.0 948.6 L1396.0 949.9 L1402.0 951.1 L1408.0 952.3 L1414.0 953.4 L1420.0 954.4 L1426.0 955.3 L1432.0 956.2 L1438.0 956.9 L1444.0 957.6 L1450.0 958.3 L1456.0 959.0 L1462.0 959.6 L1468.0 960.3 L1474.0 960.9 L1480.0 961.6 L1486.0 962.3 L1492.0 962.9 L1498.0 963.6 L1504.0 964.2 L1510.0 964.9 L1516.0 965.6 L1520.0 966.0 L1520 1400 L-20 1400 Z" fill="#1d1d1d"/>
 <path d="M-20.0 660.0 L-14.0 656.5 L-8.0 653.0 L-2.0 649.7 L4.0 646.4 L10.0 643.2 L16.0 640.1 L22.0 637.1 L28.0 634.2 L34.0 631.4 L40.0 628.8 L46.0 626.3 L52.0 623.9 L58.0 621.6 L64.0 619.4 L70.0 617.2 L76.0 615.0 L82.0 612.8 L88.0 610.5 L94.0 608.1 L100.0 605.7 L106.0 603.1 L112.0 600.5 L118.0 597.9 L124.0 595.3 L130.0 592.7 L136.0 590.2 L142.0 587.8 L148.0 585.7 L154.0 583.7 L160.0 581.8 L166.0 580.1 L172.0 578.4 L178.0 576.9 L184.0 575.3 L190.0 573.9 L196.0 572.5 L202.0 571.3 L208.0 570.2 L214.0 569.1 L220.0 568.2 L226.0 567.3 L232.0 566.4 L238.0 565.6 L244.0 564.7 L250.0 563.9 L256.0 563.0 L262.0 562.2 L268.0 561.3 L274.0 560.5 L280.0 559.7 L286.0 558.9 L292.0 558.2 L298.0 557.4 L304.0 556.7 L310.0 556.1 L316.0 555.4 L322.0 554.8 L328.0 554.2 L334.0 553.6 L340.0 553.0 L346.0 552.4 L352.0 551.8 L358.0 551.2 L364.0 550.6 L370.0 550.0 L376.0 549.5 L382.0 548.9 L388.0 548.4 L394.0 547.9 L400.0 547.4 L406.0 546.9 L412.0 546.4 L418.0 546.0 L424.0 545.5 L430.0 545.0 L436.0 544.5 L442.0 544.0 L448.0 543.6 L454.0 543.1 L460.0 542.7 L466.0 542.3 L472.0 542.0 L478.0 541.9 L484.0 541.9 L490.0 542.1 L496.0 542.4 L502.0 542.9 L508.0 543.4 L514.0 544.0 L520.0 544.8 L526.0 545.9 L532.0 547.3 L538.0 549.0 L544.0 551.0 L550.0 553.2 L556.0 555.5 L562.0 558.0 L568.0 560.7 L574.0 563.5 L580.0 566.7 L586.0 570.1 L592.0 573.9 L598.0 577.8 L604.0 581.9 L610.0 586.0 L616.0 590.2 L622.0 594.3 L628.0 598.4 L634.0 602.5 L640.0 606.6 L646.0 610.6 L652.0 614.7 L658.0 618.7 L664.0 622.7 L670.0 626.7 L676.0 630.7 L682.0 634.7 L688.0 638.7 L694.0 642.7 L700.0 646.7 L706.0 650.7 L712.0 654.7 L718.0 658.7 L724.0 662.8 L730.0 666.8 L736.0 670.9 L742.0 675.0 L748.0 679.0 L754.0 683.1 L760.0 687.2 L766.0 691.3 L772.0 695.4 L778.0 699.4 L784.0 703.5 L790.0 707.6 L796.0 711.6 L802.0 715.7 L808.0 719.6 L814.0 723.4 L820.0 727.1 L826.0 730.6 L832.0 734.0 L838.0 737.4 L844.0 740.9 L850.0 744.6 L856.0 748.5 L862.0 752.7 L868.0 757.0 L874.0 761.6 L880.0 766.2 L886.0 770.9 L892.0 775.6 L898.0 780.3 L904.0 785.0 L910.0 789.7 L916.0 794.5 L922.0 799.2 L928.0 803.9 L934.0 808.7 L940.0 813.6 L946.0 818.6 L952.0 823.7 L958.0 828.8 L964.0 834.1 L970.0 839.3 L976.0 844.6 L982.0 849.9 L988.0 855.2 L994.0 860.3 L1000.0 865.4 L1006.0 870.3 L1012.0 875.1 L1018.0 879.9 L1024.0 884.6 L1030.0 889.2 L1036.0 893.9 L1042.0 898.5 L1048.0 903.2 L1054.0 907.8 L1060.0 912.5 L1066.0 917.1 L1072.0 921.8 L1078.0 926.4 L1084.0 931.0 L1090.0 935.7 L1096.0 940.3 L1102.0 944.9 L1108.0 949.5 L1114.0 954.1 L1120.0 958.7 L1126.0 963.3 L1132.0 967.9 L1138.0 972.5 L1144.0 977.1 L1150.0 981.7 L1156.0 986.3 L1162.0 990.9 L1168.0 995.4 L1174.0 1000.0 L1180.0 1004.5 L1186.0 1008.9 L1192.0 1013.0 L1198.0 1016.8 L1204.0 1020.3 L1210.0 1023.4 L1216.0 1026.2 L1222.0 1028.9 L1228.0 1031.4 L1234.0 1033.9 L1240.0 1036.3 L1246.0 1038.8 L1252.0 1041.2 L1258.0 1043.7 L1264.0 1046.1 L1270.0 1048.6 L1276.0 1051.0 L1282.0 1053.4 L1288.0 1055.9 L1294.0 1058.3 L1300.0 1060.8 L1306.0 1063.2 L1312.0 1065.7 L1318.0 1068.1 L1324.0 1070.5 L1330.0 1072.9 L1336.0 1075.2 L1342.0 1077.3 L1348.0 1079.2 L1354.0 1080.7 L1360.0 1082.0 L1366.0 1083.0 L1372.0 1083.8 L1378.0 1084.4 L1384.0 1085.0 L1390.0 1085.6 L1396.0 1086.2 L1402.0 1086.8 L1408.0 1087.3 L1414.0 1087.9 L1420.0 1088.5 L1426.0 1089.0 L1432.0 1089.6 L1438.0 1090.2 L1444.0 1090.8 L1450.0 1091.3 L1456.0 1091.9 L1462.0 1092.5 L1468.0 1093.0 L1474.0 1093.6 L1480.0 1094.2 L1486.0 1094.8 L1492.0 1095.3 L1498.0 1095.9 L1504.0 1096.5 L1510.0 1097.0 L1516.0 1097.6 L1520.0 1098.0 L1520.0 1183.0 L1514.0 1182.5 L1508.0 1182.1 L1502.0 1181.6 L1496.0 1181.1 L1490.0 1180.7 L1484.0 1180.2 L1478.0 1179.7 L1472.0 1179.3 L1466.0 1178.8 L1460.0 1178.3 L1454.0 1177.8 L1448.0 1177.3 L1442.0 1176.8 L1436.0 1176.1 L1430.0 1175.4 L1424.0 1174.6 L1418.0 1173.7 L1412.0 1172.7 L1406.0 1171.7 L1400.0 1170.6 L1394.0 1169.5 L1388.0 1168.4 L1382.0 1167.4 L1376.0 1166.3 L1370.0 1165.2 L1364.0 1164.1 L1358.0 1163.0 L1352.0 1161.9 L1346.0 1160.7 L1340.0 1159.4 L1334.0 1157.9 L1328.0 1156.2 L1322.0 1154.3 L1316.0 1152.1 L1310.0 1149.9 L1304.0 1147.6 L1298.0 1145.2 L1292.0 1142.8 L1286.0 1140.4 L1280.0 1138.0 L1274.0 1135.6 L1268.0 1133.2 L1262.0 1130.8 L1256.0 1128.4 L1250.0 1126.0 L1244.0 1123.6 L1238.0 1121.2 L1232.0 1118.8 L1226.0 1116.3 L1220.0 1113.8 L1214.0 1111.2 L1208.0 1108.4 L1202.0 1105.3 L1196.0 1101.9 L1190.0 1098.2 L1184.0 1094.2 L1178.0 1090.0 L1172.0 1085.8 L1166.0 1081.5 L1160.0 1077.2 L1154.0 1072.9 L1148.0 1068.6 L1142.0 1064.2 L1136.0 1059.9 L1130.0 1055.6 L1124.0 1051.3 L1118.0 1047.0 L1112.0 1042.6 L1106.0 1038.3 L1100.0 1034.0 L1094.0 1029.7 L1088.0 1025.3 L1082.0 1021.0 L1076.0 1016.7 L1070.0 1012.4 L1064.0 1008.0 L1058.0 1003.7 L1052.0 999.3 L1046.0 994.9 L1040.0 990.5 L1034.0 986.1 L1028.0 981.6 L1022.0 977.1 L1016.0 972.6 L1010.0 968.0 L1004.0 963.5 L998.0 958.9 L992.0 954.4 L986.0 949.8 L980.0 945.2 L974.0 940.4 L968.0 935.6 L962.0 930.7 L956.0 925.7 L950.0 920.7 L944.0 915.6 L938.0 910.4 L932.0 905.3 L926.0 900.1 L920.0 895.0 L914.0 889.9 L908.0 884.8 L902.0 879.6 L896.0 874.5 L890.0 869.5 L884.0 864.4 L878.0 859.4 L872.0 854.3 L866.0 849.3 L860.0 844.2 L854.0 839.2 L848.0 834.2 L842.0 829.2 L836.0 824.3 L830.0 819.4 L824.0 814.6 L818.0 809.8 L812.0 805.2 L806.0 800.5 L800.0 795.9 L794.0 791.2 L788.0 786.6 L782.0 782.0 L776.0 777.4 L770.0 772.9 L764.0 768.5 L758.0 764.2 L752.0 759.9 L746.0 755.8 L740.0 751.7 L734.0 747.7 L728.0 743.7 L722.0 739.7 L716.0 735.8 L710.0 731.9 L704.0 728.2 L698.0 724.6 L692.0 721.2 L686.0 717.8 L680.0 714.6 L674.0 711.4 L668.0 708.2 L662.0 705.1 L656.0 701.9 L650.0 698.7 L644.0 695.6 L638.0 692.4 L632.0 689.2 L626.0 686.0 L620.0 682.7 L614.0 679.4 L608.0 676.1 L602.0 672.7 L596.0 669.4 L590.0 666.2 L584.0 663.2 L578.0 660.5 L572.0 658.0 L566.0 655.7 L560.0 653.5 L554.0 651.5 L548.0 649.5 L542.0 647.5 L536.0 645.5 L530.0 643.5 L524.0 641.5 L518.0 639.5 L512.0 637.6 L506.0 635.6 L500.0 633.7 L494.0 631.9 L488.0 630.2 L482.0 628.7 L476.0 627.5 L470.0 626.5 L464.0 625.6 L458.0 624.9 L452.0 624.2 L446.0 623.6 L440.0 623.0 L434.0 622.4 L428.0 621.8 L422.0 621.2 L416.0 620.6 L410.0 620.0 L404.0 619.4 L398.0 618.8 L392.0 618.3 L386.0 617.8 L380.0 617.3 L374.0 616.9 L368.0 616.5 L362.0 616.1 L356.0 615.8 L350.0 615.5 L344.0 615.2 L338.0 614.9 L332.0 614.6 L326.0 614.3 L320.0 614.1 L314.0 614.0 L308.0 614.0 L302.0 614.3 L296.0 614.8 L290.0 615.5 L284.0 616.4 L278.0 617.5 L275.0 618.1 L262 640 L252 700 L248 770 L248.0 759.2 L242.0 759.9 L236.0 760.6 L230.0 761.4 L224.0 762.1 L218.0 762.9 L212.0 763.7 L206.0 764.5 L200.0 765.4 L194.0 766.4 L188.0 767.5 L182.0 768.7 L176.0 769.9 L170.0 771.2 L164.0 772.6 L158.0 774.1 L152.0 775.7 L146.0 777.3 L140.0 779.1 L134.0 781.0 L128.0 783.0 L122.0 785.1 L116.0 787.4 L110.0 789.8 L104.0 792.3 L98.0 795.0 L92.0 797.7 L86.0 800.5 L80.0 803.3 L74.0 806.2 L68.0 809.1 L62.0 812.1 L56.0 815.1 L50.0 818.2 L44.0 821.4 L38.0 824.7 L32.0 828.1 L26.0 831.5 L20.0 835.1 L14.0 838.8 L8.0 842.6 L2.0 846.5 L-4.0 850.6 L-10.0 854.8 L-16.0 859.1 L-20.0 862.1 Z" fill="#2b2b2b" filter="url(#blurU5)"/>
 <path d="M-40.0 727.0 L-34.0 723.4 L-28.0 719.8 L-22.0 716.2 L-16.0 712.7 L-10.0 709.2 L-4.0 705.8 L2.0 702.5 L8.0 699.3 L14.0 696.1 L20.0 693.1 L26.0 690.2 L32.0 687.4 L38.0 684.7 L44.0 682.1 L50.0 679.7 L56.0 677.4 L62.0 675.2 L68.0 673.0 L74.0 670.8 L80.0 668.5 L86.0 666.3 L92.0 663.9 L98.0 661.5 L104.0 659.0 L110.0 656.4 L116.0 653.8 L122.0 651.1 L128.0 648.5 L134.0 646.0 L140.0 643.6 L146.0 641.4 L152.0 639.3 L158.0 637.4 L164.0 635.6 L170.0 634.0 L176.0 632.4 L182.0 630.8 L188.0 629.4 L194.0 628.0 L200.0 626.7 L206.0 625.5 L212.0 624.5 L218.0 623.5 L224.0 622.6 L230.0 621.7 L236.0 620.9 L242.0 620.0 L248.0 619.1 L254.0 618.3 L260.0 617.4 L266.0 616.6 L272.0 615.8 L278.0 615.0 L284.0 614.2 L290.0 613.4 L296.0 612.7 L300.0 612.2 L300 760 L300.0 757.0 L294.0 756.9 L288.0 756.9 L282.0 756.9 L276.0 757.0 L270.0 757.3 L264.0 757.7 L258.0 758.2 L252.0 758.8 L246.0 759.4 L240.0 760.2 L234.0 760.9 L228.0 761.6 L222.0 762.4 L216.0 763.1 L210.0 763.9 L204.0 764.8 L198.0 765.8 L192.0 766.8 L186.0 767.9 L180.0 769.1 L174.0 770.3 L168.0 771.7 L162.0 773.1 L156.0 774.6 L150.0 776.2 L144.0 777.9 L138.0 779.7 L132.0 781.6 L126.0 783.7 L120.0 785.8 L114.0 788.2 L108.0 790.6 L102.0 793.2 L96.0 795.9 L90.0 798.6 L84.0 801.4 L78.0 804.2 L72.0 807.1 L66.0 810.1 L60.0 813.1 L54.0 816.1 L48.0 819.2 L42.0 822.5 L36.0 825.8 L30.0 829.2 L24.0 832.7 L18.0 836.3 L12.0 840.0 L6.0 843.9 L0.0 847.8 L-6.0 852.0 L-12.0 856.2 L-18.0 860.6 L-24.0 865.0 L-30.0 869.5 L-36.0 874.0 L-40.0 877.0 Z" fill="#141414" opacity="0.75" filter="url(#blurU12)"/>
 <g clip-path="url(#clipFoam)"><rect x="0" y="500" width="1500" height="700" filter="url(#noiseFoamDark)" opacity="0.5"/><rect x="0" y="500" width="1500" height="700" filter="url(#noiseFoam)" opacity="0.22"/></g>
 <path d="M275.0 618.1 L281.0 616.9 L287.0 615.9 L293.0 615.1 L299.0 614.5 L305.0 614.1 L311.0 614.0 L317.0 614.0 L323.0 614.2 L329.0 614.5 L335.0 614.8 L341.0 615.1 L347.0 615.4 L353.0 615.7 L359.0 616.0 L365.0 616.3 L371.0 616.7 L377.0 617.1 L383.0 617.5 L389.0 618.0 L395.0 618.6 L401.0 619.1 L407.0 619.7 L413.0 620.3 L419.0 620.9 L425.0 621.5 L431.0 622.1 L437.0 622.7 L443.0 623.3 L449.0 623.9 L455.0 624.5 L461.0 625.2 L467.0 626.0 L473.0 626.9 L479.0 628.1 L485.0 629.4 L491.0 631.0 L497.0 632.8 L503.0 634.7 L509.0 636.6 L515.0 638.6 L521.0 640.5 L527.0 642.5 L533.0 644.5 L539.0 646.5 L545.0 648.5 L551.0 650.5 L557.0 652.5 L563.0 654.6 L569.0 656.8 L575.0 659.2 L581.0 661.8 L587.0 664.7 L593.0 667.8 L599.0 671.0 L605.0 674.4 L611.0 677.7 L617.0 681.1 L623.0 684.4 L629.0 687.6 L635.0 690.8 L641.0 694.0 L647.0 697.2 L653.0 700.3 L659.0 703.5 L665.0 706.6 L671.0 709.8 L677.0 713.0 L683.0 716.2 L689.0 719.5 L695.0 722.9 L701.0 726.4 L707.0 730.1 L713.0 733.9 L719.0 737.7 L725.0 741.7 L731.0 745.7 L737.0 749.7 L743.0 753.7 L749.0 757.8 L755.0 762.0 L761.0 766.3 L767.0 770.7 L773.0 775.2 L779.0 779.7 L785.0 784.3 L791.0 788.9 L797.0 793.5 L803.0 798.2 L809.0 802.8 L815.0 807.5 L821.0 812.2 L827.0 817.0 L833.0 821.8 L839.0 826.7 L845.0 831.7 L851.0 836.7 L857.0 841.7 L863.0 846.7 L869.0 851.8 L875.0 856.8 L881.0 861.9 L887.0 866.9 L893.0 872.0 L899.0 877.1 L905.0 882.2 L911.0 887.3 L917.0 892.4 L923.0 897.6 L929.0 902.7 L935.0 907.9 L941.0 913.0 L947.0 918.1 L953.0 923.2 L959.0 928.2 L965.0 933.2 L971.0 938.1 L977.0 942.8 L983.0 947.5 L989.0 952.1 L995.0 956.7 L1001.0 961.2 L1007.0 965.8 L1013.0 970.3 L1019.0 974.8 L1025.0 979.4 L1031.0 983.9 L1037.0 988.3 L1043.0 992.7 L1049.0 997.1 L1055.0 1001.5 L1061.0 1005.9 L1067.0 1010.2 L1073.0 1014.5 L1079.0 1018.9 L1085.0 1023.2 L1091.0 1027.5 L1097.0 1031.8 L1103.0 1036.2 L1109.0 1040.5 L1115.0 1044.8 L1121.0 1049.1 L1127.0 1053.4 L1133.0 1057.8 L1139.0 1062.1 L1145.0 1066.4 L1151.0 1070.7 L1157.0 1075.0 L1163.0 1079.4 L1169.0 1083.7 L1175.0 1087.9 L1181.0 1092.1 L1187.0 1096.2 L1193.0 1100.1 L1199.0 1103.6 L1205.0 1106.9 L1211.0 1109.8 L1217.0 1112.6 L1223.0 1115.1 L1229.0 1117.6 L1235.0 1120.0 L1241.0 1122.4 L1247.0 1124.8 L1253.0 1127.2 L1259.0 1129.6 L1265.0 1132.0 L1271.0 1134.4 L1277.0 1136.8 L1283.0 1139.2 L1289.0 1141.6 L1295.0 1144.0 L1301.0 1146.4 L1307.0 1148.7 L1313.0 1151.0 L1319.0 1153.2 L1325.0 1155.2 L1331.0 1157.1 L1337.0 1158.7 L1343.0 1160.0 L1349.0 1161.3 L1355.0 1162.5 L1361.0 1163.6 L1367.0 1164.7 L1373.0 1165.7 L1379.0 1166.8 L1385.0 1167.9 L1391.0 1169.0 L1397.0 1170.1 L1403.0 1171.1 L1409.0 1172.2 L1415.0 1173.2 L1421.0 1174.2 L1427.0 1175.0 L1433.0 1175.8 L1439.0 1176.5 L1445.0 1177.1 L1451.0 1177.6 L1457.0 1178.1 L1463.0 1178.6 L1469.0 1179.0 L1475.0 1179.5 L1481.0 1180.0 L1487.0 1180.4 L1493.0 1180.9 L1499.0 1181.4 L1505.0 1181.8 L1511.0 1182.3 L1517.0 1182.8 L1520.0 1183.0 L1520 1400 L200 1400 L200 780 L215 700 L240 640 L262 622 Z" fill="#111111" mask="url(#maskFade)"/>
 <path d="M250.0 768.0 L256.0 765.6 L262.0 763.2 L268.0 760.8 L274.0 758.4 L280.0 756.1 L286.0 753.8 L292.0 751.5 L298.0 749.4 L304.0 747.5 L310.0 745.6 L316.0 743.9 L322.0 742.3 L328.0 740.7 L334.0 739.1 L340.0 737.5 L346.0 735.9 L352.0 734.3 L358.0 732.8 L364.0 731.2 L370.0 729.6 L376.0 727.9 L382.0 726.2 L388.0 724.5 L394.0 722.8 L400.0 721.0 L406.0 719.2 L412.0 717.4 L418.0 715.6 L424.0 713.8 L430.0 712.0 L436.0 710.2 L442.0 708.5 L448.0 706.8 L454.0 705.3 L460.0 703.8 L466.0 702.6 L472.0 701.4 L478.0 700.4 L484.0 699.5 L490.0 698.5 L496.0 697.6 L502.0 696.7 L508.0 695.8 L514.0 694.9 L520.0 694.1 L526.0 693.2 L532.0 692.5 L538.0 691.8 L544.0 691.4 L550.0 691.1 L556.0 691.1 L562.0 691.2 L568.0 691.5 L574.0 691.9 L580.0 692.3 L586.0 692.7 L592.0 693.1 L598.0 693.6 L604.0 694.2 L610.0 695.0 L616.0 696.0 L622.0 697.4 L628.0 699.1 L634.0 701.2 L640.0 703.4 L646.0 705.8 L652.0 708.2 L658.0 710.7 L664.0 713.2 L670.0 715.6 L676.0 718.1 L682.0 720.7 L688.0 723.4 L694.0 726.2 L700.0 729.1 L706.0 732.3 L712.0 735.7 L718.0 739.2 L724.0 742.9 L730.0 746.5 L736.0 750.2 L742.0 754.0 L748.0 757.8 L754.0 761.8 L760.0 765.9 L766.0 770.1 L772.0 774.5 L778.0 779.0 L784.0 783.6 L790.0 788.2 L796.0 792.8 L802.0 797.4 L808.0 802.1 L814.0 806.7 L820.0 811.4 L826.0 816.2 L832.0 821.0 L838.0 825.9 L844.0 830.8 L850.0 835.8 L856.0 840.9 L862.0 845.9 L868.0 850.9 L874.0 856.0 L880.0 861.0 L886.0 866.1 L892.0 871.2 L898.0 876.2 L904.0 881.3 L910.0 886.5 L916.0 891.6 L922.0 896.7 L928.0 901.9 L934.0 907.0 L940.0 912.1 L946.0 917.3 L952.0 922.4 L958.0 927.4 L964.0 932.4 L970.0 937.2 L976.0 942.0 L982.0 946.7 L988.0 951.3 L994.0 955.9 L1000.0 960.5 L1006.0 965.0 L1012.0 969.6 L1018.0 974.1 L1024.0 978.6 L1030.0 983.1 L1036.0 987.6 L1042.0 992.0 L1048.0 996.4 L1054.0 1000.8 L1060.0 1005.1 L1066.0 1009.5 L1072.0 1013.8 L1078.0 1018.1 L1084.0 1022.5 L1090.0 1026.8 L1096.0 1031.1 L1102.0 1035.4 L1108.0 1039.8 L1114.0 1044.1 L1120.0 1048.4 L1126.0 1052.7 L1132.0 1057.0 L1138.0 1061.4 L1144.0 1065.7 L1150.0 1070.0 L1156.0 1074.3 L1162.0 1078.6 L1168.0 1082.9 L1174.0 1087.2 L1180.0 1091.4 L1186.0 1095.5 L1192.0 1099.5 L1198.0 1103.1 L1204.0 1106.4 L1210.0 1109.4 L1216.0 1112.1 L1222.0 1114.7 L1228.0 1117.2 L1234.0 1119.6 L1240.0 1122.0 L1246.0 1124.4 L1252.0 1126.8 L1258.0 1129.2 L1264.0 1131.6 L1270.0 1134.0 L1276.0 1136.4 L1282.0 1138.8 L1288.0 1141.2 L1294.0 1143.6 L1300.0 1146.0 L1306.0 1148.3 L1312.0 1150.7 L1318.0 1152.9 L1324.0 1154.9 L1330.0 1156.8 L1336.0 1158.4 L1342.0 1159.8 L1348.0 1161.1 L1354.0 1162.3 L1360.0 1163.4 L1366.0 1164.5 L1372.0 1165.6 L1378.0 1166.6 L1384.0 1167.7 L1390.0 1168.8 L1396.0 1169.9 L1402.0 1170.9 L1408.0 1172.0 L1414.0 1173.0 L1420.0 1174.0 L1426.0 1174.9 L1432.0 1175.7 L1438.0 1176.4 L1444.0 1177.0 L1450.0 1177.5 L1456.0 1178.0 L1462.0 1178.5 L1468.0 1179.0 L1474.0 1179.4 L1480.0 1179.9 L1486.0 1180.4 L1492.0 1180.8 L1498.0 1181.3 L1504.0 1181.8 L1510.0 1182.2 L1516.0 1182.7 L1520.0 1183.0 L1520 1400 L250 1400 Z" fill="#1b1b1b"/>
 <g clip-path="url(#clipKnit)"><rect x="0" y="600" width="1500" height="777" fill="url(#knitPat)"/></g>
 <path d="M-20.0 862.1 L-14.0 857.7 L-8.0 853.4 L-2.0 849.2 L4.0 845.2 L10.0 841.3 L16.0 837.6 L22.0 833.9 L28.0 830.4 L34.0 826.9 L40.0 823.6 L46.0 820.3 L52.0 817.2 L58.0 814.1 L64.0 811.1 L70.0 808.1 L76.0 805.2 L82.0 802.3 L88.0 799.5 L94.0 796.8 L100.0 794.1 L106.0 791.5 L112.0 789.0 L118.0 786.6 L124.0 784.4 L130.0 782.3 L136.0 780.4 L142.0 778.5 L148.0 776.8 L154.0 775.1 L160.0 773.6 L166.0 772.1 L172.0 770.8 L178.0 769.5 L184.0 768.3 L190.0 767.2 L196.0 766.1 L202.0 765.1 L208.0 764.2 L214.0 763.4 L220.0 762.6 L226.0 761.9 L232.0 761.1 L238.0 760.4 L244.0 759.7 L250.0 759.0 L256.0 758.4 L262.0 757.8 L268.0 757.4 L274.0 757.1 L280.0 756.9 L286.0 756.9 L292.0 756.9 L298.0 757.0 L304.0 757.1 L310.0 757.2 L316.0 757.3 L322.0 757.4 L328.0 757.5 L334.0 757.6 L340.0 757.7 L346.0 757.9 L352.0 758.2 L358.0 758.5 L364.0 759.0 L370.0 759.6 L376.0 760.2 L382.0 761.0 L388.0 761.7 L394.0 762.5 L400.0 763.3 L406.0 764.1 L412.0 764.9 L418.0 765.7 L424.0 766.6 L430.0 767.4 L436.0 768.3 L442.0 769.3 L448.0 770.5 L454.0 771.8 L460.0 773.3 L466.0 774.9 L472.0 776.5 L478.0 778.3 L484.0 780.0 L490.0 781.8 L496.0 783.6 L502.0 785.4 L508.0 787.3 L514.0 789.3 L520.0 791.5 L526.0 793.9 L532.0 796.8 L538.0 799.9 L544.0 803.3 L550.0 806.9 L556.0 810.5 L562.0 814.3 L568.0 818.0 L574.0 821.7 L580.0 825.4 L586.0 829.1 L592.0 832.6 L598.0 836.0 L604.0 839.2 L610.0 842.3 L616.0 845.2 L622.0 848.1 L628.0 850.9 L634.0 853.7 L640.0 856.6 L646.0 859.5 L652.0 862.5 L658.0 865.6 L664.0 868.8 L670.0 872.1 L676.0 875.4 L682.0 878.8 L688.0 882.2 L694.0 885.6 L700.0 889.1 L706.0 892.8 L712.0 896.5 L718.0 900.3 L724.0 904.1 L730.0 908.0 L736.0 912.0 L742.0 915.9 L748.0 920.0 L754.0 924.0 L760.0 928.2 L766.0 932.5 L772.0 936.8 L778.0 941.1 L784.0 945.5 L790.0 949.9 L796.0 954.4 L802.0 958.9 L808.0 963.5 L814.0 968.3 L820.0 973.1 L826.0 978.0 L832.0 982.9 L838.0 987.9 L844.0 993.0 L850.0 998.1 L856.0 1003.5 L862.0 1009.0 L868.0 1014.8 L874.0 1020.7 L880.0 1026.8 L886.0 1032.9 L892.0 1039.0 L898.0 1045.1 L904.0 1051.2 L910.0 1057.0 L916.0 1062.5 L922.0 1067.7 L928.0 1072.5 L934.0 1077.0 L940.0 1081.3 L946.0 1085.4 L952.0 1089.5 L958.0 1093.4 L964.0 1097.3 L970.0 1101.1 L976.0 1104.9 L982.0 1108.7 L988.0 1112.4 L994.0 1116.0 L1000.0 1119.6 L1006.0 1123.2 L1012.0 1126.6 L1018.0 1130.0 L1024.0 1133.4 L1030.0 1136.8 L1036.0 1140.2 L1042.0 1143.6 L1048.0 1147.1 L1054.0 1150.6 L1060.0 1154.1 L1066.0 1157.6 L1072.0 1161.2 L1078.0 1164.8 L1084.0 1168.4 L1090.0 1171.9 L1096.0 1175.4 L1102.0 1178.9 L1108.0 1182.4 L1114.0 1185.8 L1120.0 1189.2 L1126.0 1192.6 L1132.0 1195.9 L1138.0 1199.3 L1144.0 1202.6 L1150.0 1206.0 L1156.0 1209.4 L1162.0 1212.7 L1168.0 1216.1 L1174.0 1219.4 L1180.0 1222.8 L1186.0 1226.1 L1192.0 1229.4 L1198.0 1232.7 L1204.0 1235.9 L1210.0 1239.1 L1216.0 1242.2 L1222.0 1245.4 L1228.0 1248.5 L1234.0 1251.5 L1240.0 1254.6 L1246.0 1257.7 L1252.0 1260.6 L1258.0 1263.5 L1264.0 1266.3 L1270.0 1269.0 L1276.0 1271.6 L1282.0 1274.1 L1288.0 1276.7 L1294.0 1279.2 L1300.0 1281.6 L1306.0 1284.1 L1312.0 1286.5 L1318.0 1288.9 L1324.0 1291.3 L1330.0 1293.6 L1336.0 1295.8 L1342.0 1298.0 L1348.0 1300.3 L1354.0 1302.5 L1360.0 1304.6 L1366.0 1306.8 L1372.0 1308.9 L1378.0 1311.0 L1384.0 1313.1 L1390.0 1315.1 L1396.0 1317.0 L1402.0 1318.9 L1408.0 1320.9 L1414.0 1322.8 L1420.0 1324.6 L1426.0 1326.5 L1432.0 1328.4 L1438.0 1330.2 L1444.0 1331.9 L1450.0 1333.7 L1456.0 1335.4 L1462.0 1337.0 L1468.0 1338.7 L1474.0 1340.3 L1480.0 1342.0 L1486.0 1343.6 L1492.0 1345.3 L1498.0 1346.9 L1504.0 1348.6 L1510.0 1350.2 L1516.0 1351.9 L1520.0 1353.0 L1520.0 1375.0 L1514.0 1373.3 L1508.0 1371.7 L1502.0 1370.1 L1496.0 1368.4 L1490.0 1366.7 L1484.0 1365.1 L1478.0 1363.4 L1472.0 1361.8 L1466.0 1360.1 L1460.0 1358.5 L1454.0 1356.8 L1448.0 1355.1 L1442.0 1353.4 L1436.0 1351.6 L1430.0 1349.8 L1424.0 1347.9 L1418.0 1346.0 L1412.0 1344.1 L1406.0 1342.2 L1400.0 1340.3 L1394.0 1338.4 L1388.0 1336.4 L1382.0 1334.4 L1376.0 1332.3 L1370.0 1330.2 L1364.0 1328.1 L1358.0 1325.9 L1352.0 1323.7 L1346.0 1321.5 L1340.0 1319.3 L1334.0 1317.1 L1328.0 1314.8 L1322.0 1312.5 L1316.0 1310.1 L1310.0 1307.7 L1304.0 1305.3 L1298.0 1302.8 L1292.0 1300.3 L1286.0 1297.8 L1280.0 1295.3 L1274.0 1292.7 L1268.0 1290.1 L1262.0 1287.4 L1256.0 1284.6 L1250.0 1281.6 L1244.0 1278.6 L1238.0 1275.6 L1232.0 1272.5 L1226.0 1269.4 L1220.0 1266.3 L1214.0 1263.2 L1208.0 1260.0 L1202.0 1256.8 L1196.0 1253.6 L1190.0 1250.3 L1184.0 1247.0 L1178.0 1243.7 L1172.0 1240.3 L1166.0 1236.9 L1160.0 1233.6 L1154.0 1230.2 L1148.0 1226.7 L1142.0 1223.3 L1136.0 1219.9 L1130.0 1216.4 L1124.0 1212.9 L1118.0 1209.4 L1112.0 1205.9 L1106.0 1202.4 L1100.0 1198.8 L1094.0 1195.2 L1088.0 1191.5 L1082.0 1187.8 L1076.0 1184.1 L1070.0 1180.4 L1064.0 1176.7 L1058.0 1173.0 L1052.0 1169.3 L1046.0 1165.7 L1040.0 1162.0 L1034.0 1158.4 L1028.0 1154.8 L1022.0 1151.2 L1016.0 1147.6 L1010.0 1143.9 L1004.0 1140.2 L998.0 1136.5 L992.0 1132.7 L986.0 1128.8 L980.0 1125.0 L974.0 1121.1 L968.0 1117.2 L962.0 1113.3 L956.0 1109.4 L950.0 1105.5 L944.0 1101.6 L938.0 1097.6 L932.0 1093.6 L926.0 1089.6 L920.0 1085.4 L914.0 1081.2 L908.0 1076.8 L902.0 1072.3 L896.0 1067.8 L890.0 1063.0 L884.0 1058.1 L878.0 1052.9 L872.0 1047.4 L866.0 1041.8 L860.0 1036.2 L854.0 1030.5 L848.0 1024.9 L842.0 1019.5 L836.0 1014.2 L830.0 1009.0 L824.0 1003.8 L818.0 998.7 L812.0 993.8 L806.0 988.9 L800.0 984.1 L794.0 979.3 L788.0 974.7 L782.0 970.0 L776.0 965.4 L770.0 960.9 L764.0 956.4 L758.0 952.1 L752.0 947.8 L746.0 943.7 L740.0 939.6 L734.0 935.7 L728.0 931.7 L722.0 927.8 L716.0 923.8 L710.0 919.9 L704.0 916.0 L698.0 912.1 L692.0 908.2 L686.0 904.2 L680.0 900.3 L674.0 896.4 L668.0 892.5 L662.0 888.6 L656.0 884.7 L650.0 880.8 L644.0 877.0 L638.0 873.3 L632.0 869.6 L626.0 866.1 L620.0 862.7 L614.0 859.3 L608.0 856.1 L602.0 852.8 L596.0 849.4 L590.0 846.0 L584.0 842.6 L578.0 839.1 L572.0 835.7 L566.0 832.2 L560.0 828.7 L554.0 825.2 L548.0 821.8 L542.0 818.5 L536.0 815.4 L530.0 812.6 L524.0 810.0 L518.0 807.8 L512.0 805.8 L506.0 803.9 L500.0 802.1 L494.0 800.4 L488.0 798.7 L482.0 797.0 L476.0 795.4 L470.0 793.7 L464.0 792.1 L458.0 790.6 L452.0 789.3 L446.0 788.0 L440.0 787.0 L434.0 786.0 L428.0 785.1 L422.0 784.3 L416.0 783.5 L410.0 782.7 L404.0 781.9 L398.0 781.1 L392.0 780.3 L386.0 779.5 L380.0 778.7 L374.0 778.0 L368.0 777.4 L362.0 776.8 L356.0 776.4 L350.0 776.1 L344.0 775.9 L338.0 775.8 L332.0 775.7 L326.0 775.6 L320.0 775.6 L314.0 775.5 L308.0 775.4 L302.0 775.4 L296.0 775.3 L290.0 775.3 L284.0 775.3 L278.0 775.5 L272.0 775.7 L266.0 776.2 L260.0 776.7 L254.0 777.4 L248.0 778.2 L242.0 779.0 L236.0 779.9 L230.0 780.7 L224.0 781.6 L218.0 782.5 L212.0 783.4 L206.0 784.5 L200.0 785.6 L194.0 786.8 L188.0 788.2 L182.0 789.6 L176.0 791.1 L170.0 792.7 L164.0 794.4 L158.0 796.2 L152.0 798.1 L146.0 800.0 L140.0 802.1 L134.0 804.2 L128.0 806.4 L122.0 808.6 L116.0 811.0 L110.0 813.4 L104.0 815.9 L98.0 818.4 L92.0 821.1 L86.0 823.8 L80.0 826.6 L74.0 829.5 L68.0 832.5 L62.0 835.6 L56.0 838.7 L50.0 842.0 L44.0 845.4 L38.0 848.9 L32.0 852.5 L26.0 856.3 L20.0 860.1 L14.0 864.1 L8.0 868.2 L2.0 872.4 L-4.0 876.8 L-10.0 881.3 L-16.0 885.9 L-20.0 889.1 Z" fill="url(#gStripe)"/>
 <path d="M-20.0 889.1 L-14.0 884.4 L-8.0 879.8 L-2.0 875.3 L4.0 871.0 L10.0 866.8 L16.0 862.8 L22.0 858.8 L28.0 855.0 L34.0 851.3 L40.0 847.7 L46.0 844.2 L52.0 840.9 L58.0 837.7 L64.0 834.5 L70.0 831.5 L76.0 828.5 L82.0 825.6 L88.0 822.9 L94.0 820.2 L100.0 817.6 L106.0 815.1 L112.0 812.6 L118.0 810.2 L124.0 807.9 L130.0 805.7 L136.0 803.5 L142.0 801.4 L148.0 799.4 L154.0 797.4 L160.0 795.6 L166.0 793.8 L172.0 792.2 L178.0 790.6 L184.0 789.1 L190.0 787.7 L196.0 786.4 L202.0 785.2 L208.0 784.1 L214.0 783.1 L220.0 782.2 L226.0 781.3 L232.0 780.4 L238.0 779.6 L244.0 778.7 L250.0 777.9 L256.0 777.2 L262.0 776.5 L268.0 776.0 L274.0 775.6 L280.0 775.4 L286.0 775.3 L292.0 775.3 L298.0 775.3 L304.0 775.4 L310.0 775.4 L316.0 775.5 L322.0 775.6 L328.0 775.7 L334.0 775.7 L340.0 775.8 L346.0 776.0 L352.0 776.2 L358.0 776.5 L364.0 777.0 L370.0 777.6 L376.0 778.2 L382.0 779.0 L388.0 779.7 L394.0 780.5 L400.0 781.3 L406.0 782.1 L412.0 782.9 L418.0 783.7 L424.0 784.6 L430.0 785.4 L436.0 786.3 L442.0 787.3 L448.0 788.4 L454.0 789.7 L460.0 791.1 L466.0 792.6 L472.0 794.3 L478.0 795.9 L484.0 797.6 L490.0 799.3 L496.0 801.0 L502.0 802.7 L508.0 804.5 L514.0 806.4 L520.0 808.5 L526.0 810.8 L532.0 813.5 L538.0 816.4 L544.0 819.6 L550.0 822.9 L556.0 826.4 L562.0 829.8 L568.0 833.3 L574.0 836.8 L580.0 840.3 L586.0 843.8 L592.0 847.2 L598.0 850.5 L604.0 853.9 L610.0 857.2 L616.0 860.4 L622.0 863.8 L627.0 866.7 L-20 1033 Z" fill="#1b1b1b"/>
 <g clip-path="url(#clipUnder)"><rect x="0" y="740" width="700" height="300" fill="url(#knitPat2)"/></g>
 <path d="M-20.0 527.0 L-14.0 523.5 L-8.0 519.9 L-2.0 516.4 L4.0 513.0 L10.0 509.6 L16.0 506.3 L22.0 503.0 L28.0 499.8 L34.0 496.6 L40.0 493.6 L46.0 490.6 L52.0 487.7 L58.0 484.9 L64.0 482.2 L70.0 479.4 L76.0 476.6 L82.0 473.8 L88.0 470.9 L94.0 468.0 L100.0 465.0 L106.0 462.1 L112.0 459.2 L118.0 456.4 L124.0 453.7 L130.0 451.0 L136.0 448.4 L142.0 445.9 L148.0 443.4 L154.0 441.0 L160.0 438.6 L166.0 436.2 L172.0 434.0 L178.0 431.9 L184.0 429.9 L190.0 428.1 L196.0 426.2 L202.0 424.4 L208.0 422.7 L214.0 421.0 L220.0 419.5 L226.0 418.0 L232.0 416.7 L238.0 415.6 L244.0 414.5 L250.0 413.6 L256.0 412.7 L262.0 411.8 L268.0 410.9 L274.0 410.1 L280.0 409.4 L286.0 408.7 L292.0 408.1 L298.0 407.5 L304.0 407.0 L310.0 406.5 L316.0 406.0 L322.0 405.5 L328.0 405.1 L334.0 404.6 L340.0 404.3 L346.0 403.9 L352.0 403.6 L358.0 403.4 L364.0 403.1 L370.0 402.9 L376.0 402.7 L382.0 402.4 L388.0 402.2 L394.0 402.0 L400.0 401.8 L406.0 401.6 L412.0 401.6 L418.0 401.6 L424.0 401.7 L430.0 401.9 L436.0 402.2 L442.0 402.5 L448.0 402.9 L454.0 403.3 L460.0 403.7 L466.0 404.2 L472.0 404.7 L478.0 405.3 L484.0 405.9 L490.0 406.7 L496.0 407.5 L502.0 408.3 L508.0 409.2 L514.0 410.1 L520.0 411.1 L526.0 412.1 L532.0 413.2 L538.0 414.4 L544.0 415.8 L550.0 417.3 L556.0 418.9 L562.0 420.7 L568.0 422.4 L574.0 424.2 L580.0 426.0 L586.0 427.9 L592.0 429.8 L598.0 431.7 L604.0 433.7 L610.0 435.8 L616.0 437.9 L622.0 440.1 L628.0 442.3 L634.0 444.5 L640.0 446.7 L646.0 448.9 L652.0 451.2 L658.0 453.5 L664.0 455.9 L670.0 458.4 L676.0 460.9 L682.0 463.4 L688.0 466.1 L694.0 468.8 L700.0 471.7 L706.0 474.7 L712.0 477.8 L718.0 480.9 L724.0 484.2 L730.0 487.5 L736.0 490.8 L742.0 494.3 L748.0 497.9 L754.0 501.6 L760.0 505.5 L766.0 509.6 L772.0 513.8 L778.0 518.0 L784.0 522.3 L790.0 526.6 L796.0 530.9 L802.0 535.2 L808.0 539.4 L814.0 543.6 L820.0 547.8 L826.0 551.9 L832.0 556.1 L838.0 560.2 L844.0 564.3 L850.0 568.4 L856.0 572.5 L862.0 576.6 L868.0 580.7 L874.0 584.8 L880.0 588.9 L886.0 592.9 L892.0 597.0 L898.0 601.1 L904.0 605.3 L910.0 609.5 L916.0 613.8 L922.0 618.3 L928.0 622.9 L934.0 627.6 L940.0 632.4 L946.0 637.3 L952.0 642.1 L958.0 647.0 L964.0 651.9 L970.0 656.7 L976.0 661.5 L982.0 666.2 L988.0 670.8 L994.0 675.4 L1000.0 680.0 L1006.0 684.5 L1012.0 689.1 L1018.0 693.7 L1024.0 698.3 L1030.0 703.1 L1036.0 708.1 L1042.0 713.1 L1048.0 718.3 L1054.0 723.5 L1060.0 728.8 L1066.0 734.1 L1072.0 739.3 L1078.0 744.4 L1084.0 749.3 L1090.0 754.1 L1096.0 758.8 L1100.0 761.8 L1100.0 793.8 L1096.0 790.8 L1090.0 786.1 L1084.0 781.3 L1078.0 776.4 L1072.0 771.3 L1066.0 766.1 L1060.0 760.8 L1054.0 755.5 L1048.0 750.3 L1042.0 745.1 L1036.0 740.1 L1030.0 735.1 L1024.0 730.3 L1018.0 725.7 L1012.0 721.1 L1006.0 716.5 L1000.0 712.0 L994.0 707.4 L988.0 702.8 L982.0 698.2 L976.0 693.5 L970.0 688.7 L964.0 683.9 L958.0 679.0 L952.0 674.1 L946.0 669.3 L940.0 664.4 L934.0 659.6 L928.0 654.9 L922.0 650.3 L916.0 645.8 L910.0 641.5 L904.0 637.3 L898.0 633.1 L892.0 629.0 L886.0 624.9 L880.0 620.9 L874.0 616.8 L868.0 612.7 L862.0 608.6 L856.0 604.5 L850.0 600.4 L844.0 596.3 L838.0 592.2 L832.0 588.1 L826.0 583.9 L820.0 579.8 L814.0 575.6 L808.0 571.4 L802.0 567.2 L796.0 562.9 L790.0 558.6 L784.0 554.3 L778.0 550.0 L772.0 545.8 L766.0 541.6 L760.0 537.5 L754.0 533.6 L748.0 529.9 L742.0 526.3 L736.0 522.8 L730.0 519.5 L724.0 516.2 L718.0 512.9 L712.0 509.8 L706.0 506.7 L700.0 503.7 L694.0 500.8 L688.0 498.1 L682.0 495.4 L676.0 492.9 L670.0 490.4 L664.0 487.9 L658.0 485.5 L652.0 483.2 L646.0 480.9 L640.0 478.7 L634.0 476.5 L628.0 474.3 L622.0 472.1 L616.0 469.9 L610.0 467.8 L604.0 465.7 L598.0 463.7 L592.0 461.8 L586.0 459.9 L580.0 458.0 L574.0 456.2 L568.0 454.4 L562.0 452.7 L556.0 450.9 L550.0 449.3 L544.0 447.8 L538.0 446.4 L532.0 445.2 L526.0 444.1 L520.0 443.1 L514.0 442.1 L508.0 441.2 L502.0 440.3 L496.0 439.5 L490.0 438.7 L484.0 437.9 L478.0 437.3 L472.0 436.7 L466.0 436.2 L460.0 435.7 L454.0 435.3 L448.0 434.9 L442.0 434.5 L436.0 434.2 L430.0 433.9 L424.0 433.7 L418.0 433.6 L412.0 433.6 L406.0 433.6 L400.0 433.8 L394.0 434.0 L388.0 434.2 L382.0 434.4 L376.0 434.7 L370.0 434.9 L364.0 435.1 L358.0 435.4 L352.0 435.6 L346.0 435.9 L340.0 436.3 L334.0 436.6 L328.0 437.1 L322.0 437.5 L316.0 438.0 L310.0 438.5 L304.0 439.0 L298.0 439.5 L292.0 440.1 L286.0 440.7 L280.0 441.4 L274.0 442.1 L268.0 442.9 L262.0 443.8 L256.0 444.7 L250.0 445.6 L244.0 446.5 L238.0 447.6 L232.0 448.7 L226.0 450.0 L220.0 451.5 L214.0 453.0 L208.0 454.7 L202.0 456.4 L196.0 458.2 L190.0 460.1 L184.0 461.9 L178.0 463.9 L172.0 466.0 L166.0 468.2 L160.0 470.6 L154.0 473.0 L148.0 475.4 L142.0 477.9 L136.0 480.4 L130.0 483.0 L124.0 485.7 L118.0 488.4 L112.0 491.2 L106.0 494.1 L100.0 497.0 L94.0 500.0 L88.0 502.9 L82.0 505.8 L76.0 508.6 L70.0 511.4 L64.0 514.2 L58.0 516.9 L52.0 519.7 L46.0 522.6 L40.0 525.6 L34.0 528.6 L28.0 531.8 L22.0 535.0 L16.0 538.3 L10.0 541.6 L4.0 545.0 L-2.0 548.4 L-8.0 551.9 L-14.0 555.5 L-20.0 559.0 Z" fill="#2c2c2c" opacity="0.45" filter="url(#blur6)"/>
 <rect x="0" y="300" width="1500" height="1077" filter="url(#noiseDark)" opacity="0.25"/>
 <path d="M-20.0 557.0 L-14.0 553.5 L-8.0 549.9 L-2.0 546.4 L4.0 543.0 L10.0 539.6 L16.0 536.3 L22.0 533.0 L28.0 529.8 L34.0 526.6 L40.0 523.6 L46.0 520.6 L52.0 517.7 L58.0 514.9 L64.0 512.2 L70.0 509.4 L76.0 506.6 L82.0 503.8 L88.0 500.9 L94.0 498.0 L100.0 495.0 L106.0 492.1 L112.0 489.2 L118.0 486.4 L124.0 483.7 L130.0 481.0 L136.0 478.4 L142.0 475.9 L148.0 473.4 L154.0 471.0 L160.0 468.6 L166.0 466.2 L172.0 464.0 L178.0 461.9 L184.0 459.9 L190.0 458.1 L196.0 456.2 L202.0 454.4 L208.0 452.7 L214.0 451.0 L220.0 449.5 L226.0 448.0 L232.0 446.7 L238.0 445.6 L244.0 444.5 L250.0 443.6 L256.0 442.7 L262.0 441.8 L268.0 440.9 L274.0 440.1 L280.0 439.4 L286.0 438.7 L292.0 438.1 L298.0 437.5 L304.0 437.0 L310.0 436.5 L316.0 436.0 L322.0 435.5 L328.0 435.1 L334.0 434.6 L340.0 434.3 L346.0 433.9 L352.0 433.6 L358.0 433.4 L364.0 433.1 L370.0 432.9 L376.0 432.7 L382.0 432.4 L388.0 432.2 L394.0 432.0 L400.0 431.8 L406.0 431.6 L412.0 431.6 L418.0 431.6 L424.0 431.7 L430.0 431.9 L436.0 432.2 L442.0 432.5 L448.0 432.9 L454.0 433.2 L460.0 433.5 L466.0 433.8 L472.0 434.1 L478.0 434.6 L484.0 435.1 L490.0 435.7 L496.0 436.3 L502.0 437.0 L508.0 437.8 L514.0 438.5 L520.0 439.3 L526.0 440.2 L532.0 441.1 L538.0 442.2 L544.0 443.4 L550.0 444.8 L556.0 446.3 L562.0 447.9 L568.0 449.5 L574.0 451.1 L580.0 452.8 L586.0 454.5 L592.0 456.2 L598.0 458.0 L604.0 459.9 L610.0 461.8 L616.0 463.8 L622.0 465.8 L628.0 467.8 L634.0 469.9 L640.0 471.9 L646.0 474.0 L652.0 476.2 L658.0 478.5 L664.0 480.9 L670.0 483.4 L676.0 485.9 L682.0 488.4 L688.0 491.1 L694.0 493.8 L700.0 496.7 L706.0 499.7 L712.0 502.8 L718.0 505.9 L724.0 509.2 L730.0 512.5 L736.0 515.8 L742.0 519.3 L748.0 522.9 L754.0 526.6 L760.0 530.5 L766.0 534.4 L772.0 538.3 L778.0 542.4 L784.0 546.4 L790.0 550.5 L796.0 554.6 L802.0 558.6 L808.0 562.6 L814.0 566.6 L820.0 570.5 L826.0 574.5 L832.0 578.4 L838.0 582.3 L844.0 586.2 L850.0 590.0 L856.0 593.9 L862.0 597.8 L868.0 601.7 L874.0 605.5 L880.0 609.4 L886.0 613.2 L892.0 617.1 L898.0 620.9 L904.0 624.9 L910.0 628.9 L916.0 633.0 L922.0 637.3 L928.0 641.9 L934.0 646.6 L940.0 651.4 L946.0 656.3 L952.0 661.1 L958.0 666.0 L964.0 670.9 L970.0 675.7 L976.0 680.5 L982.0 685.2 L988.0 689.8 L994.0 694.4 L1000.0 699.0 L1006.0 703.5 L1012.0 708.1 L1018.0 712.7 L1024.0 717.3 L1030.0 722.1 L1036.0 727.1 L1042.0 732.1 L1048.0 737.3 L1054.0 742.5 L1060.0 747.8 L1066.0 753.1 L1072.0 758.3 L1078.0 763.4 L1084.0 768.3 L1090.0 773.1 L1096.0 777.8 L1102.0 782.3 L1108.0 786.8 L1114.0 791.2 L1120.0 795.5 L1126.0 799.9 L1132.0 804.2 L1138.0 808.5 L1144.0 812.8 L1150.0 817.0 L1156.0 821.2 L1162.0 825.4 L1168.0 829.5 L1174.0 833.6 L1180.0 837.6 L1186.0 841.5 L1192.0 845.4 L1198.0 849.2 L1204.0 853.0 L1210.0 856.7 L1216.0 860.5 L1222.0 864.2 L1228.0 868.0 L1234.0 871.7 L1240.0 875.4 L1246.0 879.0 L1252.0 882.4 L1258.0 885.6 L1264.0 888.5 L1270.0 891.3 L1276.0 893.8 L1282.0 896.2 L1288.0 898.5 L1294.0 900.7 L1300.0 903.0 L1306.0 905.2 L1312.0 907.5 L1318.0 909.7 L1324.0 911.9 L1330.0 913.9 L1336.0 915.9 L1342.0 917.7 L1348.0 919.3 L1354.0 920.8 L1360.0 922.2 L1366.0 923.5 L1372.0 924.8 L1378.0 926.1 L1384.0 927.3 L1390.0 928.6 L1396.0 929.9 L1402.0 931.1 L1408.0 932.3 L1414.0 933.4 L1420.0 934.4 L1426.0 935.3 L1432.0 936.2 L1438.0 936.9 L1444.0 937.6 L1450.0 938.3 L1456.0 939.0 L1462.0 939.6 L1468.0 940.3 L1474.0 940.9 L1480.0 941.6 L1486.0 942.3 L1492.0 942.9 L1498.0 943.6 L1504.0 944.2 L1510.0 944.9 L1516.0 945.6 L1520.0 946.0 L1520.0 965.0 L1516.0 964.6 L1510.0 963.9 L1504.0 963.2 L1498.0 962.6 L1492.0 961.9 L1486.0 961.3 L1480.0 960.6 L1474.0 959.9 L1468.0 959.3 L1462.0 958.6 L1456.0 958.0 L1450.0 957.3 L1444.0 956.6 L1438.0 955.9 L1432.0 955.2 L1426.0 954.3 L1420.0 953.4 L1414.0 952.4 L1408.0 951.3 L1402.0 950.1 L1396.0 948.9 L1390.0 947.6 L1384.0 946.3 L1378.0 945.1 L1372.0 943.8 L1366.0 942.5 L1360.0 941.2 L1354.0 939.8 L1348.0 938.3 L1342.0 936.7 L1336.0 934.9 L1330.0 932.9 L1324.0 930.9 L1318.0 928.7 L1312.0 926.5 L1306.0 924.2 L1300.0 922.0 L1294.0 919.7 L1288.0 917.5 L1282.0 915.2 L1276.0 912.8 L1270.0 910.3 L1264.0 907.5 L1258.0 904.6 L1252.0 901.4 L1246.0 898.0 L1240.0 894.4 L1234.0 890.7 L1228.0 887.0 L1222.0 883.2 L1216.0 879.5 L1210.0 875.7 L1204.0 872.0 L1198.0 868.2 L1192.0 864.4 L1186.0 860.5 L1180.0 856.6 L1174.0 852.6 L1168.0 848.5 L1162.0 844.4 L1156.0 840.2 L1150.0 836.0 L1144.0 831.8 L1138.0 827.5 L1132.0 823.2 L1126.0 818.9 L1120.0 814.5 L1114.0 810.2 L1108.0 805.8 L1102.0 801.3 L1096.0 796.8 L1090.0 792.1 L1084.0 787.3 L1078.0 782.4 L1072.0 777.3 L1066.0 772.1 L1060.0 766.8 L1054.0 761.5 L1048.0 756.3 L1042.0 751.1 L1036.0 746.1 L1030.0 741.1 L1024.0 736.3 L1018.0 731.7 L1012.0 727.1 L1006.0 722.5 L1000.0 718.0 L994.0 713.4 L988.0 708.8 L982.0 704.2 L976.0 699.5 L970.0 694.7 L964.0 689.9 L958.0 685.0 L952.0 680.1 L946.0 675.3 L940.0 670.4 L934.0 665.6 L928.0 660.9 L922.0 656.3 L916.0 651.8 L910.0 647.5 L904.0 643.3 L898.0 639.1 L892.0 635.0 L886.0 630.9 L880.0 626.9 L874.0 622.8 L868.0 618.7 L862.0 614.6 L856.0 610.5 L850.0 606.4 L844.0 602.3 L838.0 598.2 L832.0 594.1 L826.0 589.9 L820.0 585.8 L814.0 581.6 L808.0 577.4 L802.0 573.2 L796.0 568.9 L790.0 564.6 L784.0 560.3 L778.0 556.0 L772.0 551.8 L766.0 547.6 L760.0 543.5 L754.0 539.6 L748.0 535.9 L742.0 532.3 L736.0 528.8 L730.0 525.5 L724.0 522.2 L718.0 518.9 L712.0 515.8 L706.0 512.7 L700.0 509.7 L694.0 506.8 L688.0 504.1 L682.0 501.4 L676.0 498.9 L670.0 496.4 L664.0 493.9 L658.0 491.5 L652.0 489.2 L646.0 486.9 L640.0 484.7 L634.0 482.5 L628.0 480.3 L622.0 478.1 L616.0 475.9 L610.0 473.8 L604.0 471.7 L598.0 469.7 L592.0 467.8 L586.0 465.9 L580.0 464.0 L574.0 462.2 L568.0 460.4 L562.0 458.7 L556.0 456.9 L550.0 455.3 L544.0 453.8 L538.0 452.4 L532.0 451.2 L526.0 450.1 L520.0 449.1 L514.0 448.1 L508.0 447.2 L502.0 446.3 L496.0 445.5 L490.0 444.7 L484.0 443.9 L478.0 443.3 L472.0 442.7 L466.0 442.2 L460.0 441.7 L454.0 441.3 L448.0 440.9 L442.0 440.5 L436.0 440.2 L430.0 439.9 L424.0 439.7 L418.0 439.6 L412.0 439.6 L406.0 439.6 L400.0 439.8 L394.0 440.0 L388.0 440.2 L382.0 440.4 L376.0 440.7 L370.0 440.9 L364.0 441.1 L358.0 441.4 L352.0 441.6 L346.0 441.9 L340.0 442.3 L334.0 442.6 L328.0 443.1 L322.0 443.5 L316.0 444.0 L310.0 444.5 L304.0 445.0 L298.0 445.5 L292.0 446.1 L286.0 446.7 L280.0 447.4 L274.0 448.1 L268.0 448.9 L262.0 449.8 L256.0 450.7 L250.0 451.6 L244.0 452.5 L238.0 453.6 L232.0 454.7 L226.0 456.0 L220.0 457.5 L214.0 459.0 L208.0 460.7 L202.0 462.4 L196.0 464.2 L190.0 466.1 L184.0 467.9 L178.0 469.9 L172.0 472.0 L166.0 474.2 L160.0 476.6 L154.0 479.0 L148.0 481.4 L142.0 483.9 L136.0 486.4 L130.0 489.0 L124.0 491.7 L118.0 494.4 L112.0 497.2 L106.0 500.1 L100.0 503.0 L94.0 506.0 L88.0 508.9 L82.0 511.8 L76.0 514.6 L70.0 517.4 L64.0 520.2 L58.0 522.9 L52.0 525.7 L46.0 528.6 L40.0 531.6 L34.0 534.6 L28.0 537.8 L22.0 541.0 L16.0 544.3 L10.0 547.6 L4.0 551.0 L-2.0 554.4 L-8.0 557.9 L-14.0 561.5 L-20.0 565.0 Z" fill="#282828"/>
 <path d="M-20.0 564.0 L-14.0 560.5 L-8.0 556.9 L-2.0 553.4 L4.0 550.0 L10.0 546.6 L16.0 543.3 L22.0 540.0 L28.0 536.8 L34.0 533.6 L40.0 530.6 L46.0 527.6 L52.0 524.7 L58.0 521.9 L64.0 519.2 L70.0 516.4 L76.0 513.6 L82.0 510.8 L88.0 507.9 L94.0 505.0 L100.0 502.0 L106.0 499.1 L112.0 496.2 L118.0 493.4 L124.0 490.7 L130.0 488.0 L136.0 485.4 L142.0 482.9 L148.0 480.4 L154.0 478.0 L160.0 475.6 L166.0 473.2 L172.0 471.0 L178.0 468.9 L184.0 466.9 L190.0 465.1 L196.0 463.2 L202.0 461.4 L208.0 459.7 L214.0 458.0 L220.0 456.5 L226.0 455.0 L232.0 453.7 L238.0 452.6 L244.0 451.5 L250.0 450.6 L256.0 449.7 L262.0 448.8 L268.0 447.9 L274.0 447.1 L280.0 446.4 L286.0 445.7 L292.0 445.1 L298.0 444.5 L304.0 444.0 L310.0 443.5 L316.0 443.0 L322.0 442.5 L328.0 442.1 L334.0 441.6 L340.0 441.3 L346.0 440.9 L352.0 440.6 L358.0 440.4 L364.0 440.1 L370.0 439.9 L376.0 439.7 L382.0 439.4 L388.0 439.2 L394.0 439.0 L400.0 438.8 L406.0 438.6 L412.0 438.6 L418.0 438.6 L424.0 438.7 L430.0 438.9 L436.0 439.2 L442.0 439.5 L448.0 439.9 L454.0 440.3 L460.0 440.7 L466.0 441.2 L472.0 441.7 L478.0 442.3 L484.0 442.9 L490.0 443.7 L496.0 444.5 L502.0 445.3 L508.0 446.2 L514.0 447.1 L520.0 448.1 L526.0 449.1 L532.0 450.2 L538.0 451.4 L544.0 452.8 L550.0 454.3 L556.0 455.9 L562.0 457.7 L568.0 459.4 L574.0 461.2 L580.0 463.0 L586.0 464.9 L592.0 466.8 L598.0 468.7 L604.0 470.7 L610.0 472.8 L616.0 474.9 L622.0 477.1 L628.0 479.3 L634.0 481.5 L640.0 483.7 L646.0 485.9 L652.0 488.2 L658.0 490.5 L664.0 492.9 L670.0 495.4 L676.0 497.9 L682.0 500.4 L688.0 503.1 L694.0 505.8 L700.0 508.7 L706.0 511.7 L712.0 514.8 L718.0 517.9 L724.0 521.2 L730.0 524.5 L736.0 527.8 L742.0 531.3 L748.0 534.9 L754.0 538.6 L760.0 542.5 L766.0 546.6 L772.0 550.8 L778.0 555.0 L784.0 559.3 L790.0 563.6 L796.0 567.9 L802.0 572.2 L808.0 576.4 L814.0 580.6 L820.0 584.8 L826.0 588.9 L832.0 593.1 L838.0 597.2 L844.0 601.3 L850.0 605.4 L856.0 609.5 L862.0 613.6 L868.0 617.7 L874.0 621.8 L880.0 625.9 L886.0 629.9 L892.0 634.0 L898.0 638.1 L904.0 642.3 L910.0 646.5 L916.0 650.8 L922.0 655.3 L928.0 659.9 L934.0 664.6 L940.0 669.4 L946.0 674.3 L952.0 679.1 L958.0 684.0 L964.0 688.9 L970.0 693.7 L976.0 698.5 L982.0 703.2 L988.0 707.8 L994.0 712.4 L1000.0 717.0 L1006.0 721.5 L1012.0 726.1 L1018.0 730.7 L1024.0 735.3 L1030.0 740.1 L1036.0 745.1 L1042.0 750.1 L1048.0 755.3 L1054.0 760.5 L1060.0 765.8 L1066.0 771.1 L1072.0 776.3 L1078.0 781.4 L1084.0 786.3 L1090.0 791.1 L1096.0 795.8 L1102.0 800.3 L1108.0 804.8 L1114.0 809.2 L1120.0 813.5 L1126.0 817.9 L1132.0 822.2 L1138.0 826.5 L1144.0 830.8 L1150.0 835.0 L1156.0 839.2 L1162.0 843.4 L1168.0 847.5 L1174.0 851.6 L1180.0 855.6 L1186.0 859.5 L1192.0 863.4 L1198.0 867.2 L1204.0 871.0 L1210.0 874.7 L1216.0 878.5 L1222.0 882.2 L1228.0 886.0 L1234.0 889.7 L1240.0 893.4 L1246.0 897.0 L1252.0 900.4 L1258.0 903.6 L1264.0 906.5 L1270.0 909.3 L1276.0 911.8 L1282.0 914.2 L1288.0 916.5 L1294.0 918.7 L1300.0 921.0 L1306.0 923.2 L1312.0 925.5 L1318.0 927.7 L1324.0 929.9 L1330.0 931.9 L1336.0 933.9 L1342.0 935.7 L1348.0 937.3 L1354.0 938.8 L1360.0 940.2 L1366.0 941.5 L1372.0 942.8 L1378.0 944.1 L1384.0 945.3 L1390.0 946.6 L1396.0 947.9 L1402.0 949.1 L1408.0 950.3 L1414.0 951.4 L1420.0 952.4 L1426.0 953.3 L1432.0 954.2 L1438.0 954.9 L1444.0 955.6 L1450.0 956.3 L1456.0 957.0 L1462.0 957.6 L1468.0 958.3 L1474.0 958.9 L1480.0 959.6 L1486.0 960.3 L1492.0 960.9 L1498.0 961.6 L1504.0 962.2 L1510.0 962.9 L1516.0 963.6 L1520.0 964.0" fill="none" stroke="#363636" stroke-width="2"/>
</g>
<path d="M472.0 312.8 L478.0 312.7 L484.0 312.6 L490.0 312.5 L496.0 312.4 L502.0 312.3 L508.0 312.2 L514.0 312.1 L520.0 312.0 L526.0 311.9 L532.0 311.9 L538.0 311.8 L544.0 311.7 L550.0 311.6 L556.0 311.6 L562.0 311.5 L568.0 311.4 L574.0 311.3 L580.0 311.3 L586.0 311.2 L592.0 311.2 L598.0 311.1 L604.0 311.1 L610.0 311.2 L616.0 311.2 L622.0 311.3 L628.0 311.4 L634.0 311.4 L640.0 311.5 L646.0 311.6 L652.0 311.7 L658.0 311.7 L664.0 311.8 L670.0 311.9 L676.0 312.0 L682.0 312.1 L688.0 312.3 L694.0 312.4 L700.0 312.6 L706.0 312.8 L712.0 313.0 L718.0 313.1 L724.0 313.3 L730.0 313.5 L736.0 313.7 L742.0 313.9 L748.0 314.0 L754.0 314.2 L760.0 314.4 L766.0 314.6 L772.0 314.8 L778.0 314.9 L784.0 315.1 L790.0 315.3 L796.0 315.5 L802.0 315.6 L808.0 315.8 L814.0 316.0 L820.0 316.2 L826.0 316.4 L832.0 316.5 L838.0 316.7 L844.0 316.9 L850.0 317.1 L856.0 317.2 L862.0 317.4 L868.0 317.6 L874.0 317.8 L880.0 317.9 L886.0 318.1 L892.0 318.3 L898.0 318.5 L904.0 318.6 L910.0 318.8 L916.0 319.0 L922.0 319.2 L928.0 319.4 L934.0 319.5 L940.0 319.7 L946.0 319.9 L952.0 320.1 L958.0 320.2 L964.0 320.4 L970.0 320.6 L976.0 320.7 L982.0 320.9 L988.0 321.1 L994.0 321.2 L1000.0 321.4 L1006.0 321.6 L1012.0 321.7 L1018.0 321.9 L1024.0 322.1 L1030.0 322.3 L1036.0 322.4 L1042.0 322.6 L1048.0 322.8 L1054.0 322.9 L1060.0 323.1 L1066.0 323.3 L1072.0 323.4 L1078.0 323.6 L1084.0 323.8 L1090.0 323.9 L1096.0 324.1 L1102.0 324.3 L1108.0 324.5 L1114.0 324.6 L1120.0 324.8 L1126.0 325.0 L1132.0 325.1 L1138.0 325.3 L1144.0 325.5 L1150.0 325.7 L1156.0 325.9 L1162.0 326.2 L1168.0 326.5 L1174.0 326.9 L1180.0 327.3 L1186.0 327.7 L1192.0 328.1 L1198.0 328.6 L1204.0 329.0 L1210.0 329.4 L1216.0 329.9 L1222.0 330.3 L1228.0 330.7 L1234.0 331.2 L1240.0 331.6 L1246.0 332.1 L1252.0 332.5 L1258.0 332.9 L1264.0 333.4 L1270.0 333.8 L1276.0 334.3 L1282.0 334.8 L1288.0 335.3 L1294.0 336.0 L1300.0 336.8 L1306.0 337.7 L1312.0 338.8 L1318.0 340.0 L1324.0 341.2 L1330.0 342.5 L1336.0 343.9 L1342.0 345.3 L1348.0 346.7 L1354.0 348.4 L1360.0 350.3 L1366.0 352.4 L1372.0 354.7 L1378.0 357.2 L1384.0 359.8 L1390.0 362.5 L1396.0 365.3 L1402.0 368.2 L1408.0 371.3 L1414.0 374.5 L1420.0 377.8 L1426.0 381.2 L1432.0 384.6 L1438.0 388.0 L1444.0 391.4 L1450.0 394.6 L1456.0 397.6 L1462.0 400.5 L1468.0 403.2 L1474.0 405.9 L1480.0 408.5 L1486.0 411.1 L1492.0 413.8 L1498.0 416.5 L1504.0 419.3 L1510.0 422.1 L1516.0 425.1 L1520.0 427.0 L1520.0 811.0 L1514.0 810.3 L1508.0 809.6 L1502.0 808.9 L1496.0 808.2 L1490.0 807.5 L1484.0 806.8 L1478.0 806.1 L1472.0 805.2 L1466.0 804.2 L1460.0 802.9 L1454.0 801.4 L1448.0 799.9 L1442.0 798.4 L1436.0 796.9 L1430.0 795.3 L1424.0 793.8 L1418.0 792.1 L1412.0 790.2 L1406.0 788.0 L1400.0 785.7 L1394.0 783.3 L1388.0 780.8 L1382.0 778.4 L1376.0 775.9 L1370.0 773.4 L1364.0 770.9 L1358.0 768.1 L1352.0 765.2 L1346.0 762.1 L1340.0 759.0 L1334.0 755.8 L1328.0 752.7 L1322.0 749.5 L1316.0 746.3 L1310.0 743.1 L1304.0 739.7 L1298.0 736.1 L1292.0 732.4 L1286.0 728.6 L1280.0 724.8 L1274.0 721.0 L1268.0 717.2 L1262.0 713.4 L1256.0 709.6 L1250.0 705.8 L1244.0 701.9 L1238.0 697.9 L1232.0 693.5 L1226.0 688.8 L1220.0 684.0 L1214.0 679.2 L1208.0 674.3 L1202.0 669.4 L1196.0 664.6 L1190.0 659.7 L1184.0 654.8 L1178.0 650.0 L1172.0 645.1 L1166.0 640.2 L1160.0 635.4 L1154.0 630.5 L1148.0 625.6 L1142.0 620.8 L1136.0 615.9 L1130.0 611.0 L1124.0 606.2 L1118.0 601.4 L1112.0 596.6 L1106.0 592.1 L1100.0 587.7 L1094.0 583.4 L1088.0 579.2 L1082.0 574.9 L1076.0 570.7 L1070.0 566.4 L1064.0 562.2 L1058.0 558.0 L1052.0 553.7 L1046.0 549.5 L1040.0 545.3 L1034.0 541.0 L1028.0 536.8 L1022.0 532.5 L1016.0 528.3 L1010.0 524.1 L1004.0 520.0 L998.0 516.0 L992.0 512.3 L986.0 508.6 L980.0 505.0 L974.0 501.4 L968.0 497.8 L962.0 494.3 L956.0 490.7 L950.0 487.2 L944.0 483.6 L938.0 480.1 L932.0 476.5 L926.0 473.0 L920.0 469.5 L914.0 465.9 L908.0 462.4 L902.0 458.8 L896.0 455.3 L890.0 451.7 L884.0 448.2 L878.0 444.6 L872.0 441.1 L866.0 437.6 L860.0 434.2 L854.0 430.8 L848.0 427.6 L842.0 424.3 L836.0 421.1 L830.0 417.9 L824.0 414.7 L818.0 411.4 L812.0 408.2 L806.0 405.0 L800.0 401.8 L794.0 398.5 L788.0 395.4 L782.0 392.3 L776.0 389.5 L770.0 386.9 L764.0 384.3 L758.0 381.8 L752.0 379.3 L746.0 376.8 L740.0 374.3 L734.0 371.8 L728.0 369.4 L722.0 367.1 L716.0 364.9 L710.0 362.9 L704.0 361.0 L698.0 359.1 L692.0 357.3 L686.0 355.4 L680.0 353.5 L674.0 351.6 L668.0 349.8 L662.0 347.9 L656.0 346.0 L650.0 344.1 L644.0 342.3 L638.0 340.6 L632.0 339.0 L626.0 337.5 L620.0 336.0 L614.0 334.5 L608.0 333.1 L602.0 331.7 L596.0 330.5 L590.0 329.5 L584.0 328.5 L578.0 327.5 L572.0 326.6 L566.0 325.7 L560.0 324.7 L554.0 323.8 L548.0 322.9 L542.0 322.0 L536.0 321.1 L530.0 320.2 L524.0 319.4 L518.0 318.6 L512.0 317.8 L506.0 317.1 L500.0 316.4 L494.0 315.7 L488.0 315.1 L482.0 314.4 L476.0 313.7 L470.0 313.0 Z" fill="#e9ebde"/>
<g clip-path="url(#clipFloral)"><g filter="url(#blur3)">
<ellipse cx="600" cy="322" rx="110" ry="14" transform="rotate(4 600 322)" fill="#c9d9cb" fill-opacity="0.9"/>
<ellipse cx="690" cy="330" rx="70" ry="16" transform="rotate(8 690 330)" fill="#bcd2c4" fill-opacity="0.9"/>
<ellipse cx="800" cy="350" rx="110" ry="34" transform="rotate(18 800 350)" fill="#a3b47f" fill-opacity="0.95"/>
<ellipse cx="760" cy="340" rx="60" ry="14" transform="rotate(12 760 340)" fill="#9fb37c" fill-opacity="0.9"/>
<ellipse cx="880" cy="360" rx="90" ry="40" transform="rotate(20 880 360)" fill="#a5b582" fill-opacity="0.95"/>
<ellipse cx="950" cy="350" rx="45" ry="30" transform="rotate(0 950 350)" fill="#a9b98a" fill-opacity="0.9"/>
<ellipse cx="915" cy="398" rx="48" ry="30" transform="rotate(15 915 398)" fill="#b8d0c4" fill-opacity="0.9"/>
<ellipse cx="970" cy="440" rx="40" ry="50" transform="rotate(20 970 440)" fill="#a0b27c" fill-opacity="0.9"/>
<ellipse cx="1000" cy="480" rx="30" ry="35" transform="rotate(30 1000 480)" fill="#a6b585" fill-opacity="0.85"/>
<ellipse cx="1030" cy="340" rx="50" ry="20" transform="rotate(-5 1030 340)" fill="#5d4636" fill-opacity="0.95"/>
<ellipse cx="1090" cy="342" rx="35" ry="22" transform="rotate(-8 1090 342)" fill="#6e8050" fill-opacity="0.95"/>
<ellipse cx="1080" cy="378" rx="22" ry="11" transform="rotate(5 1080 378)" fill="#c76b7a" fill-opacity="0.95"/>
<ellipse cx="1160" cy="385" rx="65" ry="55" transform="rotate(0 1160 385)" fill="#e9d2c8" fill-opacity="0.9"/>
<ellipse cx="1180" cy="422" rx="25" ry="15" transform="rotate(20 1180 422)" fill="#e49aa0" fill-opacity="0.95"/>
<ellipse cx="1045" cy="442" rx="30" ry="13" transform="rotate(15 1045 442)" fill="#e8a0a5" fill-opacity="0.95"/>
<ellipse cx="1207" cy="351" rx="16" ry="7" transform="rotate(10 1207 351)" fill="#e8a090" fill-opacity="0.9"/>
<ellipse cx="1205" cy="425" rx="20" ry="22" transform="rotate(0 1205 425)" fill="#e8b0ac" fill-opacity="0.8"/>
<ellipse cx="1220" cy="465" rx="22" ry="34" transform="rotate(15 1220 465)" fill="#98a676" fill-opacity="0.95"/>
<ellipse cx="1275" cy="437" rx="50" ry="15" transform="rotate(22 1275 437)" fill="#9eab7a" fill-opacity="0.95"/>
<ellipse cx="1300" cy="350" rx="40" ry="14" transform="rotate(15 1300 350)" fill="#a9b584" fill-opacity="0.85"/>
<ellipse cx="1320" cy="380" rx="35" ry="12" transform="rotate(-30 1320 380)" fill="#a8b487" fill-opacity="0.8"/>
<ellipse cx="1390" cy="360" rx="30" ry="10" transform="rotate(25 1390 360)" fill="#b0ba8e" fill-opacity="0.8"/>
<ellipse cx="1460" cy="432" rx="50" ry="15" transform="rotate(12 1460 432)" fill="#a6b182" fill-opacity="0.95"/>
<ellipse cx="1480" cy="578" rx="40" ry="34" transform="rotate(-20 1480 578)" fill="#b3d3cc" fill-opacity="0.95"/>
<ellipse cx="1485" cy="760" rx="22" ry="36" transform="rotate(25 1485 760)" fill="#9aab7c" fill-opacity="0.9"/>
<path d="M1348 668 C1380 640 1420 622 1470 617 C1500 614 1515 625 1515 650 L1515 720 C1490 722 1450 712 1420 700 C1395 690 1370 680 1348 668 Z" fill="url(#gLeaf)"/>
</g><rect x="500" y="300" width="1000" height="520" filter="url(#noiseCream)" opacity="0.35"/></g>
<path d="M470.0 313.0 L476.0 313.1 L482.0 313.3 L488.0 313.4 L494.0 313.6 L500.0 313.7 L506.0 313.9 L512.0 314.0 L518.0 314.2 L524.0 314.5 L530.0 314.8 L536.0 315.2 L542.0 315.5 L548.0 315.9 L554.0 316.2 L560.0 316.6 L566.0 317.0 L572.0 317.6 L578.0 318.5 L584.0 319.4 L590.0 320.3 L596.0 321.3 L602.0 322.5 L608.0 323.8 L614.0 325.2 L620.0 326.6 L626.0 328.1 L632.0 329.6 L638.0 331.1 L644.0 332.8 L650.0 334.5 L656.0 336.3 L662.0 338.1 L668.0 340.0 L674.0 341.8 L680.0 343.6 L686.0 345.5 L692.0 347.3 L698.0 349.1 L704.0 350.9 L710.0 352.8 L716.0 354.8 L722.0 356.9 L728.0 359.2 L734.0 361.6 L740.0 364.0 L746.0 366.4 L752.0 368.9 L758.0 371.3 L764.0 373.8 L770.0 376.3 L776.0 378.9 L782.0 381.7 L788.0 384.7 L794.0 387.8 L800.0 390.9 L806.0 394.1 L812.0 397.3 L818.0 400.5 L824.0 403.6 L830.0 406.8 L836.0 410.0 L842.0 413.2 L848.0 416.4 L854.0 419.6 L860.0 422.9 L866.0 426.3 L872.0 429.7 L878.0 433.2 L884.0 436.7 L890.0 440.2 L896.0 443.7 L902.0 447.2 L908.0 450.7 L914.0 454.2 L920.0 457.7 L926.0 461.2 L932.0 464.7 L938.0 468.2 L944.0 471.7 L950.0 475.2 L956.0 478.7 L962.0 482.3 L968.0 485.8 L974.0 489.4 L980.0 493.0 L986.0 496.6 L992.0 500.3 L998.0 504.0 L1004.0 508.0 L1010.0 512.1 L1016.0 516.3 L1022.0 520.5 L1028.0 524.8 L1034.0 529.0 L1040.0 533.3 L1046.0 537.5 L1052.0 541.7 L1058.0 546.0 L1064.0 550.2 L1070.0 554.4 L1076.0 558.7 L1082.0 562.9 L1088.0 567.2 L1094.0 571.4 L1100.0 575.7 L1106.0 580.1 L1112.0 584.6 L1118.0 589.4 L1124.0 594.2 L1130.0 599.0 L1136.0 603.9 L1142.0 608.8 L1148.0 613.6 L1154.0 618.5 L1160.0 623.4 L1166.0 628.2 L1172.0 633.1 L1178.0 638.0 L1184.0 642.8 L1190.0 647.7 L1196.0 652.6 L1202.0 657.4 L1208.0 662.3 L1214.0 667.2 L1220.0 672.0 L1226.0 676.8 L1232.0 681.5 L1238.0 685.9 L1244.0 689.9 L1250.0 693.8 L1256.0 697.7 L1262.0 701.6 L1268.0 705.5 L1274.0 709.4 L1280.0 713.3 L1286.0 717.2 L1292.0 721.1 L1298.0 724.9 L1304.0 728.5 L1310.0 732.0 L1316.0 735.4 L1322.0 738.6 L1328.0 741.9 L1334.0 745.2 L1340.0 748.4 L1346.0 751.7 L1352.0 754.8 L1358.0 757.9 L1364.0 760.7 L1370.0 763.4 L1376.0 765.9 L1382.0 768.5 L1388.0 771.0 L1394.0 773.6 L1400.0 776.1 L1406.0 778.5 L1412.0 780.8 L1418.0 782.8 L1424.0 784.5 L1430.0 786.2 L1436.0 787.8 L1442.0 789.5 L1448.0 791.1 L1454.0 792.7 L1460.0 794.2 L1466.0 795.6 L1472.0 796.8 L1478.0 797.7 L1484.0 798.6 L1490.0 799.4 L1496.0 800.2 L1502.0 800.9 L1508.0 801.6 L1514.0 802.3 L1520.0 803.0 L1520.0 811.0 L1514.0 810.3 L1508.0 809.6 L1502.0 808.9 L1496.0 808.2 L1490.0 807.5 L1484.0 806.8 L1478.0 806.1 L1472.0 805.2 L1466.0 804.2 L1460.0 802.9 L1454.0 801.4 L1448.0 799.9 L1442.0 798.4 L1436.0 796.9 L1430.0 795.3 L1424.0 793.8 L1418.0 792.1 L1412.0 790.2 L1406.0 788.0 L1400.0 785.7 L1394.0 783.3 L1388.0 780.8 L1382.0 778.4 L1376.0 775.9 L1370.0 773.4 L1364.0 770.9 L1358.0 768.1 L1352.0 765.2 L1346.0 762.1 L1340.0 759.0 L1334.0 755.8 L1328.0 752.7 L1322.0 749.5 L1316.0 746.3 L1310.0 743.1 L1304.0 739.7 L1298.0 736.1 L1292.0 732.4 L1286.0 728.6 L1280.0 724.8 L1274.0 721.0 L1268.0 717.2 L1262.0 713.4 L1256.0 709.6 L1250.0 705.8 L1244.0 701.9 L1238.0 697.9 L1232.0 693.5 L1226.0 688.8 L1220.0 684.0 L1214.0 679.2 L1208.0 674.3 L1202.0 669.4 L1196.0 664.6 L1190.0 659.7 L1184.0 654.8 L1178.0 650.0 L1172.0 645.1 L1166.0 640.2 L1160.0 635.4 L1154.0 630.5 L1148.0 625.6 L1142.0 620.8 L1136.0 615.9 L1130.0 611.0 L1124.0 606.2 L1118.0 601.4 L1112.0 596.6 L1106.0 592.1 L1100.0 587.7 L1094.0 583.4 L1088.0 579.2 L1082.0 574.9 L1076.0 570.7 L1070.0 566.4 L1064.0 562.2 L1058.0 558.0 L1052.0 553.7 L1046.0 549.5 L1040.0 545.3 L1034.0 541.0 L1028.0 536.8 L1022.0 532.5 L1016.0 528.3 L1010.0 524.1 L1004.0 520.0 L998.0 516.0 L992.0 512.3 L986.0 508.6 L980.0 505.0 L974.0 501.4 L968.0 497.8 L962.0 494.3 L956.0 490.7 L950.0 487.2 L944.0 483.6 L938.0 480.1 L932.0 476.5 L926.0 473.0 L920.0 469.5 L914.0 465.9 L908.0 462.4 L902.0 458.8 L896.0 455.3 L890.0 451.7 L884.0 448.2 L878.0 444.6 L872.0 441.1 L866.0 437.6 L860.0 434.2 L854.0 430.8 L848.0 427.6 L842.0 424.3 L836.0 421.1 L830.0 417.9 L824.0 414.7 L818.0 411.4 L812.0 408.2 L806.0 405.0 L800.0 401.8 L794.0 398.5 L788.0 395.4 L782.0 392.3 L776.0 389.5 L770.0 386.9 L764.0 384.3 L758.0 381.8 L752.0 379.3 L746.0 376.8 L740.0 374.3 L734.0 371.8 L728.0 369.4 L722.0 367.1 L716.0 364.9 L710.0 362.9 L704.0 361.0 L698.0 359.1 L692.0 357.3 L686.0 355.4 L680.0 353.5 L674.0 351.6 L668.0 349.8 L662.0 347.9 L656.0 346.0 L650.0 344.1 L644.0 342.3 L638.0 340.6 L632.0 339.0 L626.0 337.5 L620.0 336.0 L614.0 334.5 L608.0 333.1 L602.0 331.7 L596.0 330.5 L590.0 329.5 L584.0 328.5 L578.0 327.5 L572.0 326.6 L566.0 325.7 L560.0 324.7 L554.0 323.8 L548.0 322.9 L542.0 322.0 L536.0 321.1 L530.0 320.2 L524.0 319.4 L518.0 318.6 L512.0 317.8 L506.0 317.1 L500.0 316.4 L494.0 315.7 L488.0 315.1 L482.0 314.4 L476.0 313.7 L470.0 313.0 Z" fill="#f7f7f1"/>
<g stroke="#3bbdb4" stroke-width="3.8" stroke-dasharray="14.6 7.9" fill="none">
 <line x1="398" y1="183.5" x2="398" y2="428"/>
 <line x1="1163" y1="168" x2="1163" y2="312"/>
 <line x1="271" y1="615.5" x2="271" y2="1126"/>
 <line x1="890" y1="1058.5" x2="890" y2="1235"/>
</g>
<circle cx="398" cy="440.5" r="28" fill="#5ccac2" fill-opacity="0.5"/><circle cx="398" cy="440.5" r="18" fill="#3ac8bc"/>
<circle cx="1163" cy="325.5" r="28" fill="#5ccac2" fill-opacity="0.5"/><circle cx="1163" cy="325.5" r="18" fill="#3ac8bc"/>
<circle cx="270.5" cy="592" r="28" fill="#5ccac2" fill-opacity="0.5"/><circle cx="270.5" cy="592" r="18" fill="#3ac8bc"/>
<circle cx="889.5" cy="1034.5" r="28" fill="#5ccac2" fill-opacity="0.5"/><circle cx="889.5" cy="1034.5" r="18" fill="#3ac8bc"/>
</svg>
<div class="pill" style="left:134px;top:97px;width:528px;height:92px;"></div>
<div class="pill" style="left:884px;top:71px;width:558px;height:90px;"></div>
<div class="pill" style="left:43px;top:1128px;width:457px;height:92px;"></div>
<div class="pill" style="left:652px;top:1235px;width:476px;height:91px;"></div>
<div class="pt" style="left:161.5px;top:121px;letter-spacing:0.1px;">Regenerated sponge layer</div>
<div class="pt" style="left:906.5px;top:95px;letter-spacing:0.25px;">Nappa leather fabric surface</div>
<div class="pt" style="left:68.5px;top:1152.5px;letter-spacing:1.0px;">Foam absorbent layer</div>
<div class="pt" style="left:675.5px;top:1257.5px;letter-spacing:1.05px;">Non-slip rubber bottom</div>
<div class="t" style="left:250px;top:58.8px;">Soft and comfortable</div>
<div class="t" style="left:895px;top:0.5px;">Rapid penetration of mois-ture does<br>not accumulate</div>
<div class="t" style="left:55px;top:1233.2px;">Absorb instantly and evaporate<br>quickly</div>
<div class="t" style="left:676px;top:1343.2px;">Anti-slip texture for firm grip</div>
</body></html>
